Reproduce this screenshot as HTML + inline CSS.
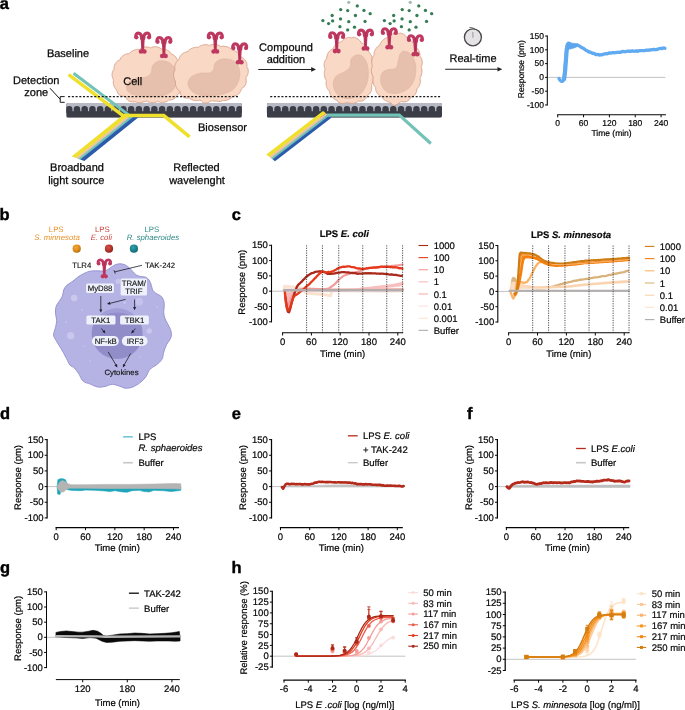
<!DOCTYPE html>
<html lang="en"><head><meta charset="utf-8"><title>Figure</title>
<style>
html,body{margin:0;padding:0;background:#fff}
body{width:685px;height:710px;overflow:hidden}
svg{display:block;font-family:"Liberation Sans",Arial,Helvetica,sans-serif;text-rendering:geometricPrecision}
</style></head><body>
<svg width="685" height="710" viewBox="0 0 685 710">
<rect width="685" height="710" fill="#fff"/>
<clipPath id="sc1"><rect x="66.2" y="102.9" width="175.7" height="14.9" rx="1.8"/></clipPath><g clip-path="url(#sc1)"><rect x="66.2" y="102.9" width="175.7" height="14.9" fill="#3b3d47"/><rect x="66.2" y="102.9" width="175.7" height="8.3" fill="#b7bac4"/><path d="M65.95 112.7V109.25A3.25 3.25 0 0 1 72.45 109.25V112.7ZM73.69 112.7V109.25A3.25 3.25 0 0 1 80.19 109.25V112.7ZM81.43 112.7V109.25A3.25 3.25 0 0 1 87.93 109.25V112.7ZM89.17 112.7V109.25A3.25 3.25 0 0 1 95.67 109.25V112.7ZM96.91 112.7V109.25A3.25 3.25 0 0 1 103.41 109.25V112.7ZM104.65 112.7V109.25A3.25 3.25 0 0 1 111.16 109.25V112.7ZM112.39 112.7V109.25A3.25 3.25 0 0 1 118.9 109.25V112.7ZM120.14 112.7V109.25A3.25 3.25 0 0 1 126.64 109.25V112.7ZM127.88 112.7V109.25A3.25 3.25 0 0 1 134.38 109.25V112.7ZM135.62 112.7V109.25A3.25 3.25 0 0 1 142.12 109.25V112.7ZM143.36 112.7V109.25A3.25 3.25 0 0 1 149.86 109.25V112.7ZM151.1 112.7V109.25A3.25 3.25 0 0 1 157.6 109.25V112.7ZM158.84 112.7V109.25A3.25 3.25 0 0 1 165.34 109.25V112.7ZM166.58 112.7V109.25A3.25 3.25 0 0 1 173.08 109.25V112.7ZM174.32 112.7V109.25A3.25 3.25 0 0 1 180.82 109.25V112.7ZM182.06 112.7V109.25A3.25 3.25 0 0 1 188.56 109.25V112.7ZM189.8 112.7V109.25A3.25 3.25 0 0 1 196.31 109.25V112.7ZM197.54 112.7V109.25A3.25 3.25 0 0 1 204.05 109.25V112.7ZM205.29 112.7V109.25A3.25 3.25 0 0 1 211.79 109.25V112.7ZM213.03 112.7V109.25A3.25 3.25 0 0 1 219.53 109.25V112.7ZM220.77 112.7V109.25A3.25 3.25 0 0 1 227.27 109.25V112.7ZM228.51 112.7V109.25A3.25 3.25 0 0 1 235.01 109.25V112.7ZM236.25 112.7V109.25A3.25 3.25 0 0 1 242.75 109.25V112.7Z" fill="#3b3d47"/></g>
<path d="M71.6 156.4L76.11 158.03L130.14 114.6L123.6 114.6Z" fill="#efe02c"/><path d="M75.89 157.95L78.2 158.79L133.18 114.6L129.82 114.6Z" fill="#f0bfa4"/><path d="M77.98 158.71L80.52 159.63L136.53 114.6L132.86 114.6Z" fill="#72c2b8"/><path d="M80.3 159.55L84.26 160.98L141.96 114.6L136.21 114.6Z" fill="#2b5bab"/>
<path d="M73.600 73.200L129.300 115.400" stroke="#72c2b8" stroke-width="3.0" fill="none"/>
<path d="M68.600 74.700L122.600 115.400" stroke="#efe02c" stroke-width="3.4" fill="none"/>
<path d="M121 115.600H163.8L189.6 136.8" stroke="#efe02c" stroke-width="3.5" fill="none" stroke-linejoin="miter"/>
<path d="M150.54 48.03C150.28 47.99 149.77 47.53 149.38 47.38C148.99 47.23 148.52 47.18 148.19 47.12C147.85 47.06 147.72 47.04 147.38 47.02C147.04 47 146.49 46.98 146.15 46.98C145.81 46.98 145.67 46.99 145.32 47.03C144.98 47.07 144.43 47.15 144.09 47.21C143.75 47.27 143.54 47.33 143.27 47.4C143 47.48 142.8 47.53 142.47 47.66C142.14 47.79 141.62 48.01 141.31 48.17C140.99 48.32 140.86 48.36 140.58 48.59C140.3 48.82 139.92 49.41 139.61 49.53C139.3 49.66 139.07 49.36 138.7 49.33C138.33 49.31 137.76 49.33 137.4 49.36C137.04 49.38 136.83 49.42 136.55 49.47C136.27 49.52 136.06 49.56 135.72 49.65C135.38 49.74 134.84 49.91 134.51 50.02C134.18 50.13 134.05 50.19 133.74 50.33C133.42 50.47 132.93 50.71 132.63 50.87C132.32 51.03 132.21 51.09 131.92 51.28C131.63 51.47 131.18 51.77 130.9 51.99C130.61 52.2 130.43 52.35 130.21 52.55C129.99 52.75 129.87 53.01 129.57 53.2C129.27 53.39 128.75 53.59 128.4 53.69C128.06 53.79 127.8 53.74 127.51 53.79C127.22 53.84 127.01 53.88 126.67 53.97C126.33 54.07 125.79 54.25 125.47 54.37C125.14 54.49 125.01 54.54 124.71 54.7C124.41 54.85 123.93 55.11 123.65 55.29C123.36 55.46 123.26 55.52 122.99 55.74C122.72 55.95 122.28 56.33 122.02 56.58C121.76 56.82 121.61 57 121.42 57.22C121.22 57.44 121.07 57.6 120.87 57.91C120.67 58.22 120.39 58.73 120.22 59.06C120.05 59.38 120.12 59.64 119.85 59.85C119.58 60.06 118.92 60.17 118.6 60.32C118.27 60.48 118.16 60.57 117.89 60.78C117.61 60.99 117.19 61.35 116.93 61.59C116.68 61.82 116.59 61.92 116.37 62.19C116.15 62.45 115.82 62.89 115.62 63.17C115.42 63.45 115.35 63.57 115.19 63.87C115.03 64.18 114.8 64.68 114.66 65C114.53 65.32 114.47 65.52 114.4 65.78C114.32 66.05 114.25 66.25 114.2 66.59C114.15 66.94 114.08 67.49 114.08 67.85C114.07 68.2 114.27 68.4 114.18 68.72C114.09 69.04 113.74 69.4 113.53 69.75C113.32 70.1 113.07 70.51 112.92 70.81C112.77 71.12 112.72 71.25 112.62 71.58C112.51 71.9 112.37 72.44 112.29 72.77C112.21 73.11 112.19 73.32 112.16 73.59C112.12 73.87 112.1 74.08 112.09 74.42C112.09 74.77 112.1 75.33 112.12 75.67C112.15 76.02 112.16 76.16 112.23 76.5C112.29 76.84 112.42 77.37 112.51 77.71C112.61 78.04 112.64 78.17 112.8 78.49C112.96 78.81 113.37 79.3 113.48 79.62C113.59 79.95 113.49 80.1 113.45 80.46C113.42 80.81 113.31 81.4 113.28 81.76C113.25 82.13 113.27 82.34 113.28 82.63C113.3 82.91 113.31 83.13 113.36 83.47C113.42 83.82 113.52 84.37 113.6 84.7C113.68 85.04 113.71 85.17 113.82 85.49C113.93 85.81 114.13 86.31 114.26 86.63C114.39 86.95 114.45 87.08 114.62 87.39C114.79 87.71 115.07 88.2 115.26 88.5C115.45 88.81 115.59 88.98 115.77 89.2C115.95 89.43 116.14 89.57 116.36 89.84C116.58 90.11 116.93 90.52 117.07 90.82C117.2 91.13 117.08 91.33 117.16 91.66C117.24 91.99 117.38 92.43 117.56 92.8C117.73 93.16 118 93.55 118.22 93.83C118.43 94.11 118.63 94.26 118.86 94.46C119.09 94.65 119.27 94.79 119.6 94.97C119.93 95.16 120.48 95.42 120.82 95.56C121.16 95.71 121.38 95.77 121.67 95.85C121.95 95.93 122.23 96.01 122.51 96.07C122.79 96.14 123 96.18 123.35 96.25C123.69 96.31 124.19 96.41 124.56 96.48C124.92 96.54 125.25 96.4 125.54 96.63C125.82 96.87 126.08 97.55 126.26 97.89C126.45 98.22 126.46 98.35 126.64 98.65C126.81 98.95 127.09 99.42 127.31 99.7C127.52 99.98 127.68 100.14 127.92 100.34C128.16 100.54 128.42 100.73 128.72 100.9C129.03 101.07 129.4 101.24 129.77 101.38C130.14 101.52 130.6 101.65 130.94 101.74C131.27 101.82 131.49 101.85 131.78 101.89C132.06 101.93 132.28 101.97 132.65 101.97C133.02 101.97 133.63 101.95 134 101.9C134.38 101.84 134.63 101.64 134.92 101.65C135.21 101.65 135.42 101.8 135.74 101.93C136.07 102.06 136.57 102.31 136.89 102.42C137.21 102.53 137.34 102.54 137.67 102.58C138 102.63 138.55 102.67 138.89 102.68C139.23 102.69 139.37 102.69 139.71 102.66C140.05 102.63 140.6 102.57 140.94 102.53C141.28 102.48 141.41 102.46 141.75 102.39C142.08 102.32 142.61 102.19 142.94 102.11C143.27 102.04 143.4 102 143.73 101.91C144.06 101.82 144.6 101.67 144.94 101.56C145.27 101.46 145.49 101.37 145.76 101.28C146.03 101.19 146.25 100.98 146.58 101.04C146.9 101.11 147.33 101.51 147.71 101.68C148.09 101.86 148.54 102 148.87 102.11C149.2 102.22 149.4 102.26 149.68 102.33C149.95 102.4 150.15 102.45 150.53 102.5C150.9 102.55 151.51 102.61 151.91 102.64C152.3 102.66 152.61 102.64 152.9 102.63C153.19 102.61 153.31 102.6 153.63 102.57C153.95 102.53 154.48 102.45 154.82 102.39C155.15 102.33 155.37 102.28 155.65 102.2C155.93 102.13 156.15 102.07 156.51 101.94C156.88 101.81 157.46 101.45 157.83 101.44C158.2 101.43 158.44 101.75 158.74 101.87C159.04 101.98 159.34 102.05 159.64 102.11C159.94 102.18 160.17 102.23 160.54 102.28C160.91 102.32 161.49 102.37 161.85 102.39C162.21 102.41 162.35 102.41 162.69 102.4C163.03 102.38 163.56 102.33 163.88 102.29C164.2 102.26 164.26 102.25 164.61 102.17C164.95 102.08 165.58 101.9 165.96 101.77C166.34 101.64 166.58 101.51 166.87 101.37C167.15 101.22 167.42 101.06 167.67 100.88C167.92 100.7 168.05 100.4 168.36 100.27C168.68 100.14 169.23 100.14 169.56 100.1C169.9 100.06 170.05 100.09 170.37 100.04C170.69 99.99 171.2 99.88 171.51 99.81C171.82 99.73 171.9 99.71 172.24 99.59C172.57 99.46 173.17 99.2 173.51 99.04C173.85 98.87 174.01 98.75 174.25 98.59C174.48 98.43 174.66 98.31 174.92 98.08C175.18 97.84 175.57 97.45 175.81 97.18C176.05 96.92 176.18 96.73 176.36 96.48C176.53 96.23 176.69 95.98 176.87 95.67C177.05 95.37 177.19 94.96 177.41 94.65C177.63 94.33 177.91 93.99 178.17 93.8C178.43 93.61 178.64 93.66 178.95 93.51C179.26 93.35 179.73 93.06 180.02 92.85C180.31 92.65 180.42 92.56 180.67 92.28C180.92 92.01 181.31 91.53 181.52 91.2C181.74 90.88 181.85 90.6 181.97 90.32C182.09 90.04 182.16 89.82 182.23 89.51C182.31 89.2 182.39 88.83 182.43 88.46C182.48 88.1 182.5 87.64 182.51 87.31C182.51 86.98 182.52 86.84 182.47 86.49C182.43 86.15 182.35 85.58 182.25 85.22C182.15 84.86 181.84 84.61 181.87 84.33C181.91 84.05 182.28 83.87 182.46 83.53C182.64 83.18 182.83 82.61 182.95 82.26C183.07 81.9 183.11 81.69 183.17 81.4C183.23 81.11 183.27 80.89 183.31 80.54C183.35 80.19 183.4 79.62 183.41 79.27C183.42 78.93 183.42 78.79 183.4 78.45C183.37 78.12 183.32 77.58 183.27 77.24C183.21 76.9 183.16 76.67 183.08 76.39C183.01 76.11 182.95 75.89 182.82 75.55C182.68 75.21 182.44 74.66 182.26 74.33C182.07 74.01 181.8 73.84 181.71 73.57C181.62 73.31 181.67 73.08 181.69 72.72C181.71 72.35 181.81 71.75 181.83 71.39C181.85 71.02 181.83 70.88 181.8 70.53C181.77 70.18 181.7 69.64 181.65 69.3C181.6 68.97 181.57 68.84 181.49 68.53C181.41 68.22 181.3 67.8 181.17 67.44C181.05 67.07 180.88 66.64 180.74 66.32C180.59 65.99 180.46 65.75 180.31 65.49C180.16 65.22 179.99 64.97 179.82 64.73C179.65 64.49 179.53 64.3 179.28 64.04C179.02 63.78 178.55 63.42 178.32 63.17C178.08 62.91 177.97 62.84 177.87 62.53C177.77 62.22 177.8 61.7 177.72 61.31C177.64 60.93 177.49 60.52 177.4 60.23C177.3 59.94 177.29 59.88 177.14 59.56C177 59.23 176.72 58.61 176.55 58.27C176.37 57.94 176.26 57.77 176.11 57.53C175.95 57.29 175.85 57.12 175.62 56.85C175.4 56.58 175.03 56.17 174.78 55.93C174.53 55.68 174.35 55.55 174.11 55.38C173.87 55.2 173.63 55.04 173.33 54.87C173.02 54.71 172.63 54.54 172.26 54.39C171.9 54.23 171.41 54.14 171.16 53.93C170.91 53.72 170.97 53.45 170.77 53.15C170.57 52.85 170.2 52.41 169.97 52.15C169.73 51.88 169.56 51.74 169.34 51.54C169.12 51.35 168.96 51.21 168.65 51C168.35 50.79 167.81 50.46 167.51 50.28C167.2 50.11 167.13 50.08 166.83 49.95C166.53 49.83 166.03 49.64 165.71 49.53C165.39 49.42 165.26 49.38 164.92 49.31C164.57 49.23 164.01 49.13 163.66 49.08C163.3 49.04 163.08 49.03 162.79 49.03C162.49 49.03 162.22 49.19 161.88 49.11C161.55 49.02 161.07 48.7 160.77 48.52C160.46 48.34 160.36 48.21 160.05 48.04C159.75 47.86 159.26 47.63 158.95 47.49C158.64 47.35 158.5 47.3 158.17 47.2C157.84 47.11 157.32 46.98 156.99 46.91C156.66 46.84 156.53 46.82 156.2 46.79C155.87 46.76 155.34 46.73 155 46.73C154.67 46.72 154.54 46.73 154.2 46.76C153.87 46.8 153.33 46.87 152.99 46.93C152.66 47 152.52 47.02 152.18 47.13C151.84 47.25 151.22 47.48 150.95 47.63C150.67 47.78 150.8 48.07 150.54 48.03Z" fill="#f9d8c5" stroke="#d69d85" stroke-width="0.85" stroke-linejoin="round"/><path d="M152.31 66.32C153.2 64.48 154.8 62.82 156.5 61.89C158.19 60.95 160.19 60.45 162.49 60.69C164.78 60.93 168.07 61.69 170.27 63.32C172.47 64.96 174.66 67.51 175.66 70.51C176.66 73.5 176.66 78.09 176.26 81.29C175.86 84.48 175.16 87.38 173.26 89.67C171.37 91.97 168.27 93.86 164.88 95.06C161.49 96.26 157.1 96.66 152.9 96.86C148.71 97.06 143.52 96.86 139.73 96.26C135.94 95.66 132.39 94.66 130.15 93.26C127.91 91.87 126.52 89.77 126.32 87.87C126.12 85.98 127.32 83.48 128.95 81.89C130.59 80.29 133.34 79.09 136.14 78.29C138.93 77.5 143.22 77.99 145.72 77.1C148.21 76.2 150.01 74.7 151.11 72.9C152.21 71.11 151.41 68.15 152.31 66.32Z" fill="#e6c0ac" stroke="#dcb29e" stroke-width="0.5"/>
<path d="M209.54 45.64C209.21 45.62 208.63 45.11 208.28 44.97C207.93 44.83 207.79 44.85 207.44 44.8C207.1 44.75 206.55 44.7 206.2 44.68C205.86 44.66 205.72 44.66 205.38 44.68C205.04 44.69 204.5 44.74 204.17 44.78C203.83 44.82 203.7 44.84 203.37 44.92C203.04 44.99 202.52 45.12 202.19 45.22C201.87 45.31 201.74 45.36 201.42 45.48C201.11 45.61 200.6 45.83 200.29 45.98C199.98 46.13 199.85 46.19 199.55 46.39C199.25 46.59 198.81 47.02 198.5 47.18C198.19 47.34 198.06 47.33 197.71 47.35C197.36 47.37 196.76 47.28 196.4 47.27C196.03 47.27 195.82 47.3 195.54 47.33C195.25 47.37 195.04 47.39 194.68 47.46C194.33 47.53 193.78 47.66 193.43 47.75C193.09 47.85 192.89 47.92 192.62 48.02C192.35 48.12 192.15 48.19 191.83 48.34C191.51 48.48 191 48.74 190.69 48.91C190.39 49.08 190.26 49.15 189.98 49.35C189.69 49.56 189.25 49.89 188.98 50.11C188.71 50.34 188.61 50.4 188.38 50.69C188.16 50.98 187.91 51.66 187.63 51.85C187.34 52.05 186.97 51.83 186.67 51.87C186.36 51.91 186.15 51.96 185.8 52.07C185.46 52.18 184.92 52.38 184.59 52.52C184.26 52.66 184.07 52.76 183.82 52.9C183.57 53.03 183.39 53.13 183.1 53.33C182.8 53.52 182.35 53.85 182.08 54.07C181.81 54.29 181.7 54.38 181.46 54.63C181.22 54.88 180.85 55.29 180.63 55.56C180.41 55.83 180.33 55.94 180.15 56.23C179.97 56.53 179.71 57.01 179.56 57.32C179.41 57.63 179.37 57.77 179.27 58.1C179.18 58.44 179.15 59.06 178.97 59.34C178.79 59.63 178.48 59.59 178.2 59.82C177.91 60.06 177.52 60.48 177.27 60.75C177.03 61.02 176.91 61.2 176.75 61.43C176.58 61.67 176.46 61.85 176.28 62.16C176.11 62.47 175.85 62.98 175.7 63.3C175.56 63.62 175.5 63.75 175.39 64.08C175.28 64.41 175.13 64.94 175.04 65.27C174.96 65.6 174.93 65.73 174.88 66.06C174.83 66.39 174.77 66.93 174.75 67.27C174.73 67.62 174.74 67.84 174.76 68.13C174.78 68.41 174.85 68.64 174.87 68.99C174.89 69.34 174.95 69.89 174.88 70.22C174.81 70.55 174.59 70.66 174.45 70.99C174.31 71.31 174.13 71.84 174.02 72.18C173.92 72.51 173.89 72.65 173.83 72.98C173.77 73.32 173.7 73.85 173.66 74.19C173.63 74.52 173.62 74.65 173.62 74.98C173.62 75.31 173.64 75.81 173.66 76.14C173.68 76.47 173.69 76.61 173.75 76.96C173.81 77.3 173.93 77.88 174.03 78.23C174.12 78.57 174.16 78.71 174.3 79.04C174.44 79.37 174.68 79.89 174.86 80.2C175.04 80.51 175.26 80.67 175.37 80.92C175.48 81.17 175.51 81.36 175.52 81.71C175.53 82.05 175.42 82.63 175.41 82.98C175.4 83.33 175.42 83.47 175.45 83.81C175.49 84.14 175.57 84.67 175.63 85C175.7 85.34 175.73 85.49 175.84 85.83C175.94 86.16 176.13 86.7 176.26 87.03C176.4 87.35 176.46 87.48 176.63 87.79C176.79 88.1 177.08 88.59 177.27 88.88C177.46 89.18 177.54 89.29 177.76 89.56C177.97 89.83 178.34 90.24 178.57 90.48C178.8 90.73 178.88 90.84 179.16 91.03C179.45 91.22 180.08 91.35 180.27 91.62C180.46 91.9 180.27 92.37 180.31 92.69C180.35 93.01 180.4 93.22 180.51 93.56C180.61 93.9 180.8 94.4 180.94 94.72C181.08 95.03 181.13 95.15 181.34 95.44C181.56 95.73 181.95 96.18 182.23 96.44C182.51 96.71 182.77 96.87 183.04 97.04C183.31 97.21 183.53 97.32 183.84 97.45C184.15 97.58 184.52 97.71 184.9 97.81C185.28 97.91 185.78 98 186.13 98.05C186.48 98.1 186.71 98.11 187.02 98.11C187.32 98.12 187.63 98.13 187.95 98.08C188.28 98.04 188.6 97.69 188.96 97.82C189.32 97.94 189.77 98.59 190.1 98.83C190.42 99.07 190.64 99.14 190.9 99.27C191.17 99.4 191.38 99.5 191.7 99.63C192.02 99.76 192.53 99.95 192.83 100.06C193.13 100.16 193.17 100.18 193.52 100.27C193.86 100.35 194.5 100.5 194.88 100.57C195.27 100.63 195.53 100.64 195.83 100.65C196.13 100.67 196.36 100.67 196.69 100.65C197.03 100.63 197.53 100.57 197.85 100.53C198.16 100.5 198.26 100.47 198.57 100.42C198.87 100.37 199.28 100.2 199.68 100.23C200.07 100.25 200.61 100.42 200.93 100.59C201.24 100.77 201.31 101 201.58 101.26C201.84 101.51 202.24 101.89 202.5 102.12C202.77 102.34 202.86 102.44 203.16 102.6C203.46 102.75 203.97 102.98 204.3 103.07C204.63 103.17 204.81 103.18 205.14 103.18C205.48 103.17 205.94 103.13 206.33 103.06C206.73 102.98 207.17 102.83 207.51 102.72C207.85 102.61 208.09 102.51 208.37 102.4C208.64 102.29 208.86 102.22 209.17 102.07C209.49 101.92 209.94 101.68 210.24 101.49C210.53 101.3 210.69 101.03 210.96 100.92C211.23 100.81 211.47 100.84 211.85 100.86C212.24 100.87 212.88 100.97 213.27 100.99C213.65 101.02 213.87 101.01 214.16 101.01C214.45 101.02 214.67 101.01 215 101.02C215.34 101.03 215.85 101.04 216.17 101.06C216.49 101.08 216.62 101.1 216.94 101.15C217.26 101.19 217.77 101.28 218.1 101.33C218.42 101.38 218.56 101.42 218.9 101.45C219.24 101.48 219.8 101.51 220.15 101.5C220.5 101.49 220.72 101.45 221 101.38C221.28 101.31 221.53 101.25 221.83 101.07C222.13 100.9 222.5 100.43 222.82 100.35C223.13 100.26 223.34 100.54 223.72 100.56C224.09 100.59 224.7 100.54 225.07 100.5C225.44 100.46 225.67 100.4 225.96 100.34C226.26 100.28 226.48 100.22 226.83 100.12C227.17 100.01 227.72 99.82 228.04 99.7C228.36 99.58 228.52 99.51 228.77 99.4C229.03 99.29 229.22 99.22 229.55 99.05C229.88 98.87 230.43 98.56 230.75 98.36C231.08 98.16 231.25 98.02 231.48 97.85C231.71 97.67 231.89 97.54 232.15 97.3C232.4 97.06 232.77 96.62 233.01 96.38C233.25 96.15 233.26 95.98 233.58 95.87C233.91 95.77 234.6 95.81 234.96 95.76C235.33 95.71 235.45 95.67 235.77 95.57C236.09 95.47 236.57 95.3 236.87 95.16C237.18 95.02 237.33 94.94 237.61 94.74C237.89 94.53 238.32 94.18 238.57 93.95C238.82 93.73 238.9 93.63 239.12 93.37C239.33 93.1 239.67 92.66 239.87 92.37C240.07 92.08 240.15 91.95 240.32 91.63C240.5 91.31 240.78 90.77 240.94 90.44C241.09 90.11 241.17 89.91 241.27 89.64C241.38 89.37 241.36 89.11 241.55 88.83C241.75 88.55 242.15 88.19 242.43 87.97C242.7 87.76 242.89 87.74 243.18 87.53C243.48 87.31 243.93 86.94 244.19 86.68C244.46 86.42 244.6 86.24 244.78 85.99C244.97 85.74 245.13 85.51 245.29 85.19C245.45 84.88 245.63 84.42 245.75 84.11C245.86 83.79 245.9 83.66 245.97 83.31C246.04 82.97 246.13 82.41 246.18 82.06C246.22 81.71 246.23 81.49 246.24 81.2C246.24 80.91 246.25 80.69 246.23 80.32C246.21 79.96 246.16 79.37 246.09 79C246.03 78.63 245.76 78.45 245.83 78.11C245.9 77.77 246.34 77.3 246.53 76.98C246.72 76.66 246.83 76.46 246.97 76.19C247.1 75.93 247.21 75.73 247.34 75.39C247.48 75.06 247.68 74.52 247.8 74.18C247.91 73.84 247.96 73.63 248.03 73.36C248.09 73.09 248.14 72.88 248.19 72.54C248.23 72.2 248.29 71.73 248.29 71.32C248.3 70.91 248.26 70.43 248.21 70.08C248.17 69.73 248.11 69.5 248.04 69.22C247.97 68.94 247.92 68.72 247.78 68.39C247.64 68.07 247.37 67.56 247.19 67.25C247.02 66.94 246.78 66.87 246.75 66.54C246.72 66.22 246.95 65.63 246.99 65.29C247.02 64.95 247 64.84 246.96 64.49C246.93 64.15 246.84 63.57 246.77 63.23C246.7 62.89 246.66 62.78 246.54 62.46C246.41 62.14 246.19 61.65 246.03 61.34C245.86 61.03 245.73 60.85 245.55 60.6C245.37 60.35 245.19 60.11 244.95 59.84C244.7 59.57 244.38 59.24 244.08 58.98C243.79 58.72 243.45 58.46 243.19 58.27C242.92 58.08 242.82 57.99 242.5 57.83C242.18 57.66 241.57 57.49 241.28 57.29C241 57.08 240.94 56.85 240.79 56.6C240.64 56.34 240.59 56.09 240.4 55.77C240.21 55.45 239.88 54.96 239.67 54.66C239.46 54.37 239.32 54.21 239.13 54C238.94 53.78 238.8 53.63 238.55 53.39C238.31 53.15 237.9 52.79 237.65 52.57C237.39 52.35 237.28 52.27 237 52.07C236.73 51.88 236.27 51.58 235.98 51.4C235.69 51.22 235.57 51.15 235.25 51.01C234.94 50.86 234.42 50.64 234.09 50.52C233.76 50.4 233.64 50.33 233.26 50.29C232.89 50.25 232.16 50.42 231.84 50.27C231.52 50.13 231.53 49.65 231.34 49.4C231.16 49.16 230.99 49.03 230.73 48.82C230.47 48.61 230.12 48.34 229.8 48.13C229.47 47.92 229.07 47.7 228.78 47.54C228.49 47.39 228.37 47.33 228.07 47.21C227.76 47.08 227.26 46.9 226.94 46.79C226.62 46.68 226.49 46.65 226.15 46.57C225.82 46.5 225.27 46.4 224.92 46.34C224.58 46.29 224.36 46.28 224.08 46.26C223.79 46.24 223.58 46.22 223.21 46.24C222.84 46.26 222.23 46.29 221.86 46.37C221.49 46.44 221.3 46.76 220.98 46.68C220.67 46.6 220.27 46.06 219.98 45.87C219.69 45.67 219.56 45.64 219.24 45.51C218.93 45.38 218.41 45.18 218.09 45.07C217.76 44.96 217.62 44.92 217.29 44.85C216.95 44.77 216.4 44.65 216.06 44.6C215.71 44.54 215.5 44.52 215.22 44.5C214.94 44.47 214.73 44.45 214.38 44.45C214.03 44.44 213.47 44.46 213.12 44.48C212.78 44.5 212.64 44.51 212.29 44.57C211.95 44.62 211.41 44.73 211.08 44.82C210.74 44.9 210.55 44.95 210.29 45.08C210.04 45.22 209.88 45.65 209.54 45.64Z" fill="#f9d8c5" stroke="#d69d85" stroke-width="0.85" stroke-linejoin="round"/><path d="M214.55 63.92C215.45 62.47 217.15 60.81 219.1 59.97C221.06 59.13 223.79 58.69 226.29 58.89C228.78 59.09 231.88 59.43 234.07 61.17C236.27 62.9 238.66 66.16 239.46 69.31C240.26 72.47 239.96 76.7 238.86 80.09C237.76 83.48 235.97 87.24 232.87 89.67C229.78 92.11 225.19 93.66 220.3 94.7C215.41 95.74 208.22 96.44 203.53 95.9C198.84 95.36 194.75 93.5 192.16 91.47C189.56 89.43 188.1 86.14 187.96 83.68C187.82 81.23 189.22 78.49 191.32 76.74C193.41 74.98 197.41 73.82 200.54 73.14C203.67 72.47 207.92 73.4 210.12 72.66C212.32 71.93 212.97 70.17 213.71 68.71C214.45 67.26 213.65 65.38 214.55 63.92Z" fill="#e6c0ac" stroke="#dcb29e" stroke-width="0.5"/>
<g transform="translate(142.7 54) scale(1)"><path d="M-1.1 -15.5C-1.1 -19 -2.5 -20.900 -4.5 -20.900C-6.6 -20.900 -7.2 -18.800 -6.9 -17M1.1 -15.5C1.1 -19 2.5 -20.900 4.5 -20.900C6.6 -20.900 7.2 -18.800 6.9 -17" fill="none" stroke="#bf3860" stroke-width="3.1" stroke-linecap="round" stroke-linejoin="round"/><circle cx="-6.3" cy="-16.700" r="2.1" fill="#bf3860"/><circle cx="6.3" cy="-16.700" r="2.1" fill="#bf3860"/><path d="M-2.1 -17L-1.4 -4.500H1.4L2.1 -17Z" fill="#bf3860"/><path d="M0 -19.5V-5" stroke="#9c2448" stroke-width="1.1" fill="none" opacity="0.5"/><circle cx="-1.7" cy="-2.5" r="2.3" fill="#bf3860"/><circle cx="1.7" cy="-2.5" r="2.3" fill="#bf3860"/><circle cx="0" cy="-3.700" r="1.9" fill="#bf3860"/></g>
<g transform="translate(163.9 58.5) scale(1)"><path d="M-1.1 -15.5C-1.1 -19 -2.5 -20.900 -4.5 -20.900C-6.6 -20.900 -7.2 -18.800 -6.9 -17M1.1 -15.5C1.1 -19 2.5 -20.900 4.5 -20.900C6.6 -20.900 7.2 -18.800 6.9 -17" fill="none" stroke="#bf3860" stroke-width="3.1" stroke-linecap="round" stroke-linejoin="round"/><circle cx="-6.3" cy="-16.700" r="2.1" fill="#bf3860"/><circle cx="6.3" cy="-16.700" r="2.1" fill="#bf3860"/><path d="M-2.1 -17L-1.4 -4.500H1.4L2.1 -17Z" fill="#bf3860"/><path d="M0 -19.5V-5" stroke="#9c2448" stroke-width="1.1" fill="none" opacity="0.5"/><circle cx="-1.7" cy="-2.5" r="2.3" fill="#bf3860"/><circle cx="1.7" cy="-2.5" r="2.3" fill="#bf3860"/><circle cx="0" cy="-3.700" r="1.9" fill="#bf3860"/></g>
<g transform="translate(215.3 54) scale(1)"><path d="M-1.1 -15.5C-1.1 -19 -2.5 -20.900 -4.5 -20.900C-6.6 -20.900 -7.2 -18.800 -6.9 -17M1.1 -15.5C1.1 -19 2.5 -20.900 4.5 -20.900C6.6 -20.900 7.2 -18.800 6.9 -17" fill="none" stroke="#bf3860" stroke-width="3.1" stroke-linecap="round" stroke-linejoin="round"/><circle cx="-6.3" cy="-16.700" r="2.1" fill="#bf3860"/><circle cx="6.3" cy="-16.700" r="2.1" fill="#bf3860"/><path d="M-2.1 -17L-1.4 -4.500H1.4L2.1 -17Z" fill="#bf3860"/><path d="M0 -19.5V-5" stroke="#9c2448" stroke-width="1.1" fill="none" opacity="0.5"/><circle cx="-1.7" cy="-2.5" r="2.3" fill="#bf3860"/><circle cx="1.7" cy="-2.5" r="2.3" fill="#bf3860"/><circle cx="0" cy="-3.700" r="1.9" fill="#bf3860"/></g>
<g transform="translate(239.7 64.8) scale(1)"><path d="M-1.1 -15.5C-1.1 -19 -2.5 -20.900 -4.5 -20.900C-6.6 -20.900 -7.2 -18.800 -6.9 -17M1.1 -15.5C1.1 -19 2.5 -20.900 4.5 -20.900C6.6 -20.900 7.2 -18.800 6.9 -17" fill="none" stroke="#bf3860" stroke-width="3.1" stroke-linecap="round" stroke-linejoin="round"/><circle cx="-6.3" cy="-16.700" r="2.1" fill="#bf3860"/><circle cx="6.3" cy="-16.700" r="2.1" fill="#bf3860"/><path d="M-2.1 -17L-1.4 -4.500H1.4L2.1 -17Z" fill="#bf3860"/><path d="M0 -19.5V-5" stroke="#9c2448" stroke-width="1.1" fill="none" opacity="0.5"/><circle cx="-1.7" cy="-2.5" r="2.3" fill="#bf3860"/><circle cx="1.7" cy="-2.5" r="2.3" fill="#bf3860"/><circle cx="0" cy="-3.700" r="1.9" fill="#bf3860"/></g>
<path d="M68.1 96.6H239" stroke="#1a1a1a" stroke-width="1.1" stroke-dasharray="2.05 1.68" fill="none"/>
<path d="M64.7 96.6H60.2V102.3H64.7M50 88.2L60.2 99.3" stroke="#1a1a1a" stroke-width="1.0" fill="none"/>
<text x="68" y="56.6" font-size="11" text-anchor="middle" fill="#0a0a0a" stroke="#0a0a0a" stroke-width="0.25">Baseline</text>
<text x="36.2" y="83.7" font-size="11" text-anchor="middle" fill="#0a0a0a" stroke="#0a0a0a" stroke-width="0.25">Detection</text>
<text x="36.2" y="96.1" font-size="11" text-anchor="middle" fill="#0a0a0a" stroke="#0a0a0a" stroke-width="0.25">zone</text>
<text x="132.8" y="84.9" font-size="11" text-anchor="middle" fill="#0a0a0a" stroke="#0a0a0a" stroke-width="0.25">Cell</text>
<text x="222.5" y="130.5" font-size="11" text-anchor="middle" fill="#0a0a0a" stroke="#0a0a0a" stroke-width="0.25">Biosensor</text>
<text x="77" y="171.3" font-size="11" text-anchor="middle" fill="#0a0a0a" stroke="#0a0a0a" stroke-width="0.25">Broadband</text>
<text x="76.3" y="183.9" font-size="11" text-anchor="middle" fill="#0a0a0a" stroke="#0a0a0a" stroke-width="0.25">light source</text>
<text x="196.5" y="171" font-size="11" text-anchor="middle" fill="#0a0a0a" stroke="#0a0a0a" stroke-width="0.25">Reflected</text>
<text x="197" y="183.6" font-size="11" text-anchor="middle" fill="#0a0a0a" stroke="#0a0a0a" stroke-width="0.25">wavelenght</text>
<text x="286" y="50.5" font-size="11" text-anchor="middle" fill="#0a0a0a" stroke="#0a0a0a" stroke-width="0.25">Compound</text>
<text x="285.9" y="63.4" font-size="11" text-anchor="middle" fill="#0a0a0a" stroke="#0a0a0a" stroke-width="0.25">addition</text>
<path d="M258.3 69.4L311.7 69.4" stroke="#222" stroke-width="1.05" fill="none"/><path d="M316 69.4L311.2 71.7L311.2 67.1Z" fill="#222"/>
<clipPath id="sc2"><rect x="266.8" y="102.9" width="175.2" height="14.9" rx="1.8"/></clipPath><g clip-path="url(#sc2)"><rect x="266.8" y="102.9" width="175.2" height="14.9" fill="#3b3d47"/><rect x="266.8" y="102.9" width="175.2" height="8.3" fill="#b7bac4"/><path d="M266.56 112.7V109.24A3.24 3.24 0 0 1 273.04 109.24V112.7ZM274.28 112.7V109.24A3.24 3.24 0 0 1 280.76 109.24V112.7ZM281.99 112.7V109.24A3.24 3.24 0 0 1 288.48 109.24V112.7ZM289.71 112.7V109.24A3.24 3.24 0 0 1 296.2 109.24V112.7ZM297.43 112.7V109.24A3.24 3.24 0 0 1 303.91 109.24V112.7ZM305.15 112.7V109.24A3.24 3.24 0 0 1 311.63 109.24V112.7ZM312.87 112.7V109.24A3.24 3.24 0 0 1 319.35 109.24V112.7ZM320.59 112.7V109.24A3.24 3.24 0 0 1 327.07 109.24V112.7ZM328.3 112.7V109.24A3.24 3.24 0 0 1 334.79 109.24V112.7ZM336.02 112.7V109.24A3.24 3.24 0 0 1 342.51 109.24V112.7ZM343.74 112.7V109.24A3.24 3.24 0 0 1 350.22 109.24V112.7ZM351.46 112.7V109.24A3.24 3.24 0 0 1 357.94 109.24V112.7ZM359.18 112.7V109.24A3.24 3.24 0 0 1 365.66 109.24V112.7ZM366.89 112.7V109.24A3.24 3.24 0 0 1 373.38 109.24V112.7ZM374.61 112.7V109.24A3.24 3.24 0 0 1 381.1 109.24V112.7ZM382.33 112.7V109.24A3.24 3.24 0 0 1 388.81 109.24V112.7ZM390.05 112.7V109.24A3.24 3.24 0 0 1 396.53 109.24V112.7ZM397.77 112.7V109.24A3.24 3.24 0 0 1 404.25 109.24V112.7ZM405.49 112.7V109.24A3.24 3.24 0 0 1 411.97 109.24V112.7ZM413.2 112.7V109.24A3.24 3.24 0 0 1 419.69 109.24V112.7ZM420.92 112.7V109.24A3.24 3.24 0 0 1 427.41 109.24V112.7ZM428.64 112.7V109.24A3.24 3.24 0 0 1 435.12 109.24V112.7ZM436.36 112.7V109.24A3.24 3.24 0 0 1 442.84 109.24V112.7Z" fill="#3b3d47"/></g>
<path d="M266.3 154.6L269.45 156.97L326.05 113.35L323 110.9Z" fill="#efe02c"/><path d="M269.29 156.84L271.12 158.21L327.66 114.63L325.89 113.22Z" fill="#f0bfa4"/><path d="M270.95 158.09L272.78 159.46L329.26 115.92L327.5 114.5Z" fill="#72c2b8"/><path d="M272.61 159.33L275.02 161.14L331.43 117.66L329.1 115.79Z" fill="#2b5bab"/>
<path d="M327 115.15H399.3L430.800 143.5" stroke="#72c2b8" stroke-width="3.1" fill="none"/>
<path d="M351.91 38.08C351.66 38.07 351.26 37.66 350.9 37.55C350.54 37.44 350.14 37.44 349.74 37.42C349.34 37.41 348.84 37.45 348.49 37.49C348.14 37.52 347.92 37.57 347.63 37.63C347.35 37.69 347.13 37.74 346.78 37.86C346.42 37.97 345.86 38.19 345.51 38.34C345.17 38.48 344.97 38.6 344.71 38.75C344.45 38.9 344.24 39.03 343.96 39.23C343.68 39.43 343.29 39.75 343.04 39.97C342.79 40.19 342.68 40.27 342.47 40.55C342.25 40.82 341.99 41.4 341.74 41.62C341.49 41.85 341.29 41.78 340.95 41.88C340.6 41.99 340.03 42.13 339.69 42.25C339.34 42.37 339.15 42.47 338.89 42.6C338.63 42.72 338.44 42.82 338.13 43.01C337.82 43.2 337.33 43.52 337.03 43.73C336.74 43.94 336.56 44.09 336.35 44.28C336.13 44.46 335.97 44.6 335.73 44.83C335.49 45.07 335.13 45.45 334.9 45.69C334.67 45.94 334.58 46.04 334.37 46.32C334.16 46.6 333.83 47.06 333.64 47.36C333.44 47.66 333.41 47.83 333.22 48.13C333.02 48.43 332.74 48.92 332.47 49.15C332.21 49.38 331.9 49.37 331.64 49.5C331.37 49.64 331.18 49.75 330.89 49.96C330.59 50.17 330.14 50.54 329.87 50.78C329.6 51.02 329.49 51.12 329.26 51.4C329.03 51.68 328.67 52.15 328.47 52.43C328.27 52.72 328.23 52.81 328.07 53.1C327.92 53.38 327.69 53.85 327.56 54.15C327.42 54.45 327.38 54.57 327.27 54.89C327.17 55.21 327.03 55.73 326.95 56.06C326.88 56.39 326.84 56.52 326.82 56.87C326.81 57.23 326.97 57.86 326.88 58.19C326.8 58.51 326.54 58.55 326.32 58.82C326.09 59.1 325.73 59.56 325.53 59.85C325.33 60.15 325.27 60.28 325.12 60.6C324.97 60.92 324.75 61.45 324.62 61.79C324.5 62.13 324.45 62.34 324.38 62.63C324.31 62.91 324.26 63.15 324.21 63.49C324.16 63.82 324.12 64.32 324.1 64.64C324.09 64.97 324.09 65.1 324.11 65.44C324.13 65.77 324.19 66.32 324.24 66.66C324.29 67 324.31 67.14 324.42 67.49C324.52 67.84 324.75 68.39 324.86 68.74C324.97 69.09 325.08 69.29 325.06 69.57C325.03 69.86 324.81 70.07 324.7 70.44C324.59 70.8 324.48 71.38 324.42 71.74C324.35 72.1 324.34 72.32 324.32 72.61C324.3 72.9 324.28 73.12 324.28 73.48C324.28 73.83 324.31 74.4 324.33 74.75C324.35 75.1 324.37 75.24 324.43 75.58C324.48 75.92 324.59 76.46 324.66 76.79C324.73 77.12 324.76 77.23 324.87 77.56C324.98 77.9 325.18 78.47 325.32 78.81C325.47 79.15 325.57 79.36 325.73 79.62C325.89 79.89 326.21 80.12 326.29 80.4C326.37 80.68 326.25 80.92 326.21 81.3C326.17 81.67 326.08 82.29 326.06 82.66C326.03 83.03 326.05 83.25 326.06 83.55C326.08 83.84 326.09 84.06 326.14 84.41C326.18 84.76 326.28 85.32 326.35 85.67C326.42 86.01 326.46 86.14 326.56 86.47C326.66 86.79 326.84 87.3 326.96 87.61C327.08 87.92 327.14 88.05 327.28 88.33C327.43 88.62 327.62 89 327.84 89.33C328.05 89.66 328.32 90.04 328.55 90.32C328.78 90.6 329.04 90.77 329.23 91C329.43 91.24 329.61 91.46 329.7 91.73C329.79 92 329.71 92.29 329.77 92.64C329.84 93 330 93.54 330.11 93.87C330.22 94.2 330.28 94.33 330.42 94.63C330.57 94.93 330.79 95.34 330.99 95.67C331.2 96 331.46 96.36 331.65 96.61C331.85 96.86 331.93 96.96 332.14 97.19C332.35 97.41 332.68 97.75 332.93 97.97C333.17 98.2 333.31 98.32 333.6 98.54C333.9 98.76 334.38 99.09 334.69 99.27C335 99.46 335.13 99.54 335.47 99.65C335.81 99.77 336.47 99.79 336.74 99.98C337.02 100.17 336.96 100.56 337.11 100.81C337.26 101.05 337.39 101.21 337.64 101.46C337.88 101.7 338.31 102.06 338.59 102.26C338.87 102.47 339.02 102.55 339.33 102.7C339.63 102.84 340.06 103.02 340.45 103.12C340.84 103.23 341.32 103.31 341.66 103.35C342 103.4 342.22 103.39 342.5 103.4C342.78 103.4 343 103.4 343.35 103.36C343.71 103.33 344.28 103.24 344.63 103.18C344.99 103.11 345.13 103.08 345.48 102.96C345.83 102.84 346.39 102.55 346.74 102.46C347.09 102.38 347.3 102.4 347.57 102.45C347.85 102.51 348.05 102.68 348.39 102.79C348.73 102.9 349.28 103.04 349.62 103.12C349.96 103.2 350.1 103.22 350.45 103.26C350.8 103.31 351.35 103.36 351.7 103.37C352.05 103.39 352.19 103.39 352.53 103.38C352.88 103.36 353.43 103.31 353.78 103.26C354.12 103.22 354.26 103.19 354.59 103.11C354.92 103.02 355.45 102.86 355.78 102.75C356.1 102.63 356.28 102.54 356.53 102.42C356.78 102.29 356.99 102.23 357.29 101.99C357.59 101.76 357.99 101.11 358.32 101C358.65 100.89 358.88 101.27 359.26 101.32C359.63 101.37 360.2 101.33 360.56 101.31C360.92 101.28 361.14 101.23 361.42 101.17C361.7 101.11 361.91 101.06 362.25 100.94C362.59 100.81 363.13 100.57 363.46 100.4C363.79 100.23 363.94 100.13 364.22 99.91C364.5 99.7 364.9 99.35 365.14 99.12C365.39 98.9 365.47 98.82 365.68 98.57C365.89 98.32 366.23 97.9 366.42 97.62C366.62 97.35 366.7 97.24 366.85 96.92C367 96.6 367.17 96.02 367.33 95.71C367.49 95.41 367.61 95.25 367.82 95.07C368.04 94.88 368.31 94.84 368.61 94.6C368.91 94.37 369.35 93.95 369.62 93.68C369.88 93.4 370.02 93.2 370.2 92.94C370.39 92.67 370.57 92.37 370.71 92.11C370.86 91.84 370.95 91.64 371.07 91.34C371.19 91.04 371.32 90.68 371.42 90.32C371.52 89.97 371.61 89.6 371.67 89.22C371.73 88.84 371.77 88.38 371.8 88.05C371.82 87.71 371.83 87.58 371.81 87.23C371.79 86.88 371.75 86.32 371.68 85.96C371.6 85.6 371.31 85.34 371.35 85.06C371.39 84.79 371.72 84.63 371.91 84.31C372.11 83.98 372.35 83.44 372.5 83.1C372.65 82.76 372.71 82.54 372.79 82.26C372.88 81.98 372.94 81.77 373.02 81.41C373.1 81.06 373.2 80.48 373.26 80.12C373.31 79.77 373.32 79.55 373.34 79.26C373.36 78.97 373.38 78.75 373.38 78.4C373.37 78.05 373.35 77.49 373.32 77.15C373.3 76.81 373.29 76.68 373.22 76.34C373.16 76 373.05 75.45 372.95 75.11C372.86 74.76 372.69 74.62 372.65 74.27C372.61 73.92 372.66 73.36 372.72 73.01C372.78 72.65 372.93 72.44 373.02 72.15C373.1 71.87 373.16 71.65 373.23 71.29C373.29 70.93 373.37 70.35 373.41 69.99C373.45 69.63 373.46 69.41 373.47 69.12C373.47 68.84 373.48 68.62 373.46 68.27C373.45 67.91 373.4 67.35 373.36 67C373.32 66.65 373.28 66.45 373.23 66.18C373.17 65.9 373.14 65.7 373.04 65.37C372.95 65.04 372.82 64.59 372.68 64.21C372.53 63.84 372.34 63.42 372.18 63.13C372.01 62.84 371.7 62.8 371.68 62.47C371.65 62.13 371.94 61.5 372.01 61.12C372.08 60.74 372.09 60.48 372.1 60.18C372.12 59.87 372.12 59.56 372.11 59.27C372.1 58.97 372.09 58.74 372.04 58.39C371.99 58.03 371.89 57.47 371.81 57.13C371.74 56.79 371.7 56.66 371.59 56.33C371.48 56.01 371.29 55.51 371.16 55.2C371.03 54.89 370.97 54.77 370.81 54.49C370.65 54.2 370.41 53.8 370.19 53.48C369.96 53.16 369.67 52.81 369.45 52.57C369.23 52.32 369.05 52.29 368.87 52.02C368.69 51.75 368.48 51.29 368.37 50.96C368.26 50.64 368.29 50.35 368.22 50.06C368.15 49.76 368.08 49.55 367.94 49.2C367.8 48.86 367.54 48.32 367.37 48C367.19 47.68 367.07 47.5 366.9 47.26C366.74 47.02 366.61 46.84 366.39 46.56C366.16 46.29 365.78 45.87 365.53 45.62C365.29 45.37 365.18 45.27 364.92 45.06C364.66 44.84 364.23 44.51 363.96 44.31C363.69 44.11 363.6 44.05 363.3 43.88C363 43.71 362.53 43.44 362.18 43.3C361.83 43.16 361.43 43.23 361.22 43.03C361 42.83 361.07 42.42 360.88 42.08C360.69 41.74 360.33 41.26 360.1 40.97C359.88 40.68 359.72 40.53 359.52 40.33C359.33 40.13 359.17 39.98 358.92 39.77C358.66 39.55 358.3 39.26 357.99 39.05C357.68 38.83 357.34 38.64 357.06 38.48C356.79 38.32 356.65 38.25 356.32 38.1C355.99 37.95 355.44 37.7 355.11 37.58C354.78 37.46 354.67 37.42 354.35 37.38C354.03 37.34 353.52 37.32 353.19 37.37C352.85 37.41 352.57 37.53 352.35 37.65C352.14 37.77 352.15 38.1 351.91 38.08Z" fill="#f9d8c5" stroke="#d69d85" stroke-width="0.85" stroke-linejoin="round"/><path d="M356.51 55.04C358.45 54.65 360.85 54.78 362.71 56.59C364.57 58.4 366.85 61.89 367.67 65.89C368.5 69.9 368.71 76.1 367.67 80.62C366.64 85.14 364.63 90 361.47 93.02C358.32 96.05 352.69 98.45 348.76 98.76C344.83 99.07 340.49 97.08 337.91 94.88C335.32 92.69 333.57 88.68 333.26 85.58C332.95 82.48 334.11 78.6 336.05 76.28C337.98 73.95 342.56 73.23 344.88 71.63C347.21 70.03 348.97 68.79 350 66.67C351.03 64.55 350 60.85 351.09 58.91C352.17 56.98 354.57 55.43 356.51 55.04Z" fill="#e6c0ac" stroke="#dcb29e" stroke-width="0.5"/>
<path d="M397.64 34.2C397.31 34.23 396.94 33.79 396.57 33.68C396.19 33.58 395.79 33.58 395.39 33.57C394.98 33.56 394.48 33.6 394.13 33.64C393.78 33.67 393.56 33.72 393.28 33.78C392.99 33.84 392.78 33.88 392.43 34C392.07 34.11 391.51 34.33 391.17 34.47C390.83 34.62 390.63 34.73 390.37 34.88C390.11 35.03 389.86 35.19 389.62 35.36C389.38 35.53 389.19 35.66 388.92 35.91C388.66 36.15 388.27 36.55 388.05 36.83C387.84 37.11 387.89 37.38 387.63 37.56C387.36 37.74 386.86 37.79 386.48 37.93C386.09 38.07 385.64 38.24 385.32 38.38C385.01 38.52 384.89 38.59 384.6 38.78C384.31 38.96 383.85 39.28 383.58 39.48C383.3 39.69 383.15 39.83 382.94 40.02C382.74 40.2 382.58 40.34 382.35 40.6C382.11 40.86 381.75 41.28 381.54 41.55C381.32 41.83 381.24 41.94 381.05 42.24C380.87 42.54 380.58 43.03 380.42 43.34C380.25 43.64 380.18 43.75 380.07 44.09C379.96 44.43 379.92 45.1 379.74 45.38C379.56 45.67 379.28 45.61 378.97 45.8C378.66 45.99 378.17 46.3 377.88 46.51C377.59 46.72 377.44 46.87 377.23 47.07C377.03 47.26 376.87 47.41 376.64 47.67C376.4 47.94 376.04 48.38 375.83 48.67C375.62 48.96 375.51 49.14 375.37 49.39C375.22 49.64 375.11 49.82 374.96 50.15C374.82 50.48 374.6 51.03 374.49 51.37C374.37 51.72 374.33 51.88 374.27 52.23C374.21 52.58 374.14 53.12 374.12 53.46C374.1 53.8 374.2 53.96 374.15 54.29C374.1 54.61 373.95 55.11 373.81 55.41C373.66 55.72 373.48 55.81 373.29 56.11C373.11 56.41 372.84 56.92 372.69 57.24C372.54 57.56 372.47 57.76 372.37 58.03C372.28 58.3 372.2 58.5 372.12 58.84C372.03 59.19 371.91 59.74 371.84 60.09C371.78 60.44 371.76 60.58 371.74 60.94C371.71 61.29 371.7 61.86 371.7 62.21C371.7 62.56 371.72 62.78 371.74 63.06C371.77 63.34 371.78 63.55 371.86 63.9C371.93 64.24 372.08 64.8 372.18 65.14C372.28 65.48 372.53 65.61 372.48 65.94C372.42 66.27 372.01 66.79 371.87 67.12C371.73 67.45 371.72 67.58 371.65 67.92C371.58 68.25 371.49 68.79 371.44 69.13C371.4 69.47 371.39 69.61 371.38 69.94C371.38 70.28 371.38 70.82 371.4 71.16C371.42 71.5 371.43 71.63 371.48 71.97C371.53 72.3 371.63 72.84 371.7 73.17C371.77 73.5 371.8 73.63 371.91 73.96C372.02 74.28 372.2 74.8 372.33 75.13C372.46 75.45 372.53 75.58 372.7 75.89C372.87 76.2 373.3 76.68 373.36 77.01C373.42 77.34 373.14 77.52 373.06 77.88C372.99 78.24 372.93 78.82 372.89 79.18C372.86 79.54 372.87 79.75 372.87 80.04C372.87 80.33 372.87 80.55 372.9 80.91C372.93 81.27 373 81.85 373.06 82.21C373.11 82.57 373.16 82.78 373.23 83.07C373.3 83.35 373.35 83.56 373.47 83.91C373.58 84.25 373.79 84.79 373.93 85.12C374.07 85.46 374.17 85.65 374.31 85.9C374.45 86.15 374.54 86.35 374.76 86.63C374.99 86.92 375.51 87.3 375.66 87.6C375.81 87.9 375.64 88.08 375.64 88.42C375.65 88.75 375.65 89.26 375.69 89.6C375.72 89.94 375.75 90.08 375.86 90.43C375.97 90.79 376.19 91.4 376.34 91.75C376.49 92.11 376.61 92.3 376.77 92.56C376.92 92.82 377.09 93.07 377.27 93.31C377.45 93.54 377.58 93.72 377.83 93.99C378.08 94.25 378.5 94.65 378.76 94.89C379.03 95.12 379.15 95.21 379.44 95.4C379.72 95.6 380.2 95.89 380.5 96.05C380.8 96.21 381 96.2 381.26 96.37C381.53 96.55 381.89 96.86 382.09 97.11C382.29 97.37 382.27 97.59 382.47 97.9C382.68 98.22 383.07 98.72 383.32 99C383.57 99.28 383.75 99.42 383.97 99.6C384.19 99.78 384.36 99.92 384.65 100.11C384.93 100.3 385.4 100.57 385.69 100.73C385.98 100.89 386.1 100.94 386.39 101.08C386.67 101.21 387.06 101.37 387.42 101.53C387.77 101.68 388.19 101.84 388.52 101.99C388.84 102.13 389.08 102.25 389.37 102.38C389.65 102.51 389.95 102.64 390.24 102.75C390.53 102.86 390.87 102.8 391.11 103.05C391.36 103.29 391.5 103.94 391.71 104.22C391.91 104.51 392.04 104.61 392.35 104.76C392.66 104.92 393.16 105.11 393.56 105.16C393.97 105.22 394.42 105.15 394.76 105.11C395.09 105.07 395.31 104.99 395.59 104.91C395.87 104.82 396.08 104.76 396.43 104.6C396.77 104.44 397.32 104.16 397.65 103.98C397.98 103.79 398.17 103.65 398.42 103.48C398.68 103.31 398.92 103.13 399.16 102.95C399.4 102.77 399.55 102.64 399.85 102.4C400.15 102.17 400.59 101.64 400.94 101.54C401.28 101.44 401.62 101.73 401.94 101.79C402.25 101.85 402.47 101.87 402.83 101.9C403.19 101.93 403.74 101.96 404.1 101.96C404.45 101.96 404.58 101.96 404.94 101.91C405.29 101.85 405.87 101.73 406.22 101.62C406.58 101.51 406.78 101.4 407.09 101.24C407.39 101.08 407.79 100.83 408.06 100.65C408.33 100.48 408.43 100.4 408.69 100.19C408.94 99.98 409.34 99.61 409.57 99.37C409.81 99.12 409.92 99.04 410.1 98.72C410.29 98.4 410.42 97.71 410.67 97.46C410.92 97.22 411.3 97.35 411.6 97.24C411.9 97.14 412.17 96.99 412.45 96.83C412.72 96.67 412.97 96.49 413.24 96.27C413.51 96.06 413.8 95.8 414.06 95.53C414.33 95.26 414.63 94.91 414.84 94.65C415.05 94.4 415.13 94.29 415.31 94C415.5 93.71 415.79 93.24 415.95 92.93C416.12 92.62 416.21 92.42 416.32 92.15C416.43 91.88 416.52 91.68 416.63 91.33C416.73 90.97 416.88 90.39 416.95 90.01C417.01 89.64 416.94 89.36 417.01 89.07C417.08 88.78 417.16 88.58 417.38 88.28C417.61 87.97 418.11 87.54 418.35 87.25C418.59 86.96 418.68 86.77 418.82 86.54C418.97 86.31 419.06 86.15 419.2 85.85C419.34 85.56 419.54 85.13 419.67 84.75C419.81 84.37 419.94 83.91 420.03 83.58C420.11 83.24 420.15 83.04 420.19 82.76C420.24 82.49 420.28 82.28 420.3 81.93C420.33 81.58 420.36 81.01 420.36 80.65C420.36 80.29 420.36 80.15 420.31 79.78C420.26 79.41 420.09 78.81 420.06 78.45C420.04 78.09 420.06 77.88 420.15 77.62C420.25 77.35 420.47 77.17 420.64 76.84C420.8 76.52 421.02 75.99 421.15 75.66C421.28 75.33 421.32 75.2 421.41 74.87C421.51 74.54 421.64 74.01 421.71 73.68C421.78 73.34 421.81 73.14 421.85 72.87C421.89 72.6 421.92 72.4 421.94 72.06C421.97 71.71 421.99 71.16 421.99 70.82C421.99 70.47 421.99 70.33 421.96 69.98C421.92 69.64 421.85 69.08 421.79 68.73C421.73 68.39 421.68 68.24 421.59 67.9C421.5 67.56 421.24 67.01 421.26 66.68C421.27 66.35 421.55 66.23 421.68 65.9C421.81 65.57 421.95 65.04 422.04 64.71C422.12 64.38 422.14 64.25 422.18 63.92C422.22 63.59 422.26 63.06 422.27 62.74C422.28 62.41 422.28 62.3 422.25 61.96C422.22 61.62 422.15 61.05 422.09 60.7C422.03 60.35 422 60.22 421.9 59.88C421.8 59.55 421.63 59.02 421.5 58.69C421.38 58.37 421.32 58.24 421.15 57.93C420.98 57.62 420.7 57.14 420.49 56.85C420.27 56.56 419.97 56.52 419.87 56.2C419.76 55.88 419.88 55.29 419.88 54.94C419.87 54.58 419.88 54.44 419.84 54.09C419.79 53.75 419.7 53.2 419.62 52.87C419.55 52.53 419.48 52.34 419.4 52.07C419.31 51.81 419.25 51.62 419.11 51.31C418.98 51 418.78 50.57 418.58 50.22C418.38 49.86 418.1 49.47 417.91 49.2C417.71 48.92 417.57 48.77 417.38 48.56C417.2 48.35 417.06 48.2 416.8 47.96C416.54 47.73 416.11 47.36 415.82 47.15C415.53 46.94 415.31 46.94 415.07 46.69C414.83 46.45 414.53 45.99 414.37 45.69C414.2 45.38 414.22 45.19 414.08 44.87C413.94 44.55 413.68 44.05 413.52 43.75C413.35 43.45 413.28 43.33 413.09 43.06C412.9 42.78 412.59 42.35 412.39 42.1C412.2 41.84 412.13 41.76 411.9 41.51C411.67 41.26 411.26 40.84 410.99 40.59C410.73 40.34 410.56 40.2 410.33 40.02C410.1 39.84 409.93 39.7 409.62 39.49C409.31 39.29 408.8 38.99 408.47 38.81C408.13 38.64 407.89 38.59 407.63 38.46C407.36 38.34 407.1 38.32 406.88 38.05C406.66 37.79 406.48 37.17 406.31 36.86C406.14 36.55 406.05 36.45 405.84 36.2C405.64 35.95 405.34 35.61 405.08 35.35C404.82 35.09 404.54 34.85 404.29 34.66C404.04 34.46 403.83 34.32 403.57 34.16C403.31 34 403.06 33.84 402.7 33.69C402.35 33.54 401.8 33.35 401.45 33.26C401.11 33.16 400.98 33.14 400.63 33.14C400.29 33.14 399.75 33.17 399.4 33.23C399.05 33.29 398.83 33.34 398.54 33.5C398.24 33.67 397.97 34.17 397.64 34.2Z" fill="#f9d8c5" stroke="#d69d85" stroke-width="0.85" stroke-linejoin="round"/><path d="M403.76 51.16C405.44 51.03 408.02 51.42 409.96 53.49C411.9 55.56 414.56 59.56 415.39 63.57C416.21 67.57 416.03 73.39 414.92 77.52C413.81 81.65 411.61 85.74 408.72 88.37C405.83 91.01 401.23 92.76 397.56 93.33C393.89 93.9 389.42 93.33 386.71 91.78C383.99 90.23 382.18 86.87 381.28 84.03C380.37 81.19 380.43 77.05 381.28 74.73C382.13 72.4 383.99 71.16 386.4 70.08C388.8 68.99 393.71 69.82 395.7 68.22C397.69 66.61 397.64 62.79 398.33 60.47C399.03 58.14 398.98 55.81 399.88 54.26C400.79 52.71 402.08 51.29 403.76 51.16Z" fill="#e6c0ac" stroke="#dcb29e" stroke-width="0.5"/>
<g transform="translate(336.7 53.6) scale(1)"><path d="M-1.1 -15.5C-1.1 -19 -2.5 -20.900 -4.5 -20.900C-6.6 -20.900 -7.2 -18.800 -6.9 -17M1.1 -15.5C1.1 -19 2.5 -20.900 4.5 -20.900C6.6 -20.900 7.2 -18.800 6.9 -17" fill="none" stroke="#bf3860" stroke-width="3.1" stroke-linecap="round" stroke-linejoin="round"/><circle cx="-6.3" cy="-16.700" r="2.1" fill="#bf3860"/><circle cx="6.3" cy="-16.700" r="2.1" fill="#bf3860"/><path d="M-2.1 -17L-1.4 -4.500H1.4L2.1 -17Z" fill="#bf3860"/><path d="M0 -19.5V-5" stroke="#9c2448" stroke-width="1.1" fill="none" opacity="0.5"/><circle cx="-1.7" cy="-2.5" r="2.3" fill="#bf3860"/><circle cx="1.7" cy="-2.5" r="2.3" fill="#bf3860"/><circle cx="0" cy="-3.700" r="1.9" fill="#bf3860"/></g>
<g transform="translate(365.5 51) scale(1)"><path d="M-1.1 -15.5C-1.1 -19 -2.5 -20.900 -4.5 -20.900C-6.6 -20.900 -7.2 -18.800 -6.9 -17M1.1 -15.5C1.1 -19 2.5 -20.900 4.5 -20.900C6.6 -20.900 7.2 -18.800 6.9 -17" fill="none" stroke="#bf3860" stroke-width="3.1" stroke-linecap="round" stroke-linejoin="round"/><circle cx="-6.3" cy="-16.700" r="2.1" fill="#bf3860"/><circle cx="6.3" cy="-16.700" r="2.1" fill="#bf3860"/><path d="M-2.1 -17L-1.4 -4.500H1.4L2.1 -17Z" fill="#bf3860"/><path d="M0 -19.5V-5" stroke="#9c2448" stroke-width="1.1" fill="none" opacity="0.5"/><circle cx="-1.7" cy="-2.5" r="2.3" fill="#bf3860"/><circle cx="1.7" cy="-2.5" r="2.3" fill="#bf3860"/><circle cx="0" cy="-3.700" r="1.9" fill="#bf3860"/></g>
<g transform="translate(389.3 49.7) scale(1)"><path d="M-1.1 -15.5C-1.1 -19 -2.5 -20.900 -4.5 -20.900C-6.6 -20.900 -7.2 -18.800 -6.9 -17M1.1 -15.5C1.1 -19 2.5 -20.900 4.5 -20.900C6.6 -20.900 7.2 -18.800 6.9 -17" fill="none" stroke="#bf3860" stroke-width="3.1" stroke-linecap="round" stroke-linejoin="round"/><circle cx="-6.3" cy="-16.700" r="2.1" fill="#bf3860"/><circle cx="6.3" cy="-16.700" r="2.1" fill="#bf3860"/><path d="M-2.1 -17L-1.4 -4.500H1.4L2.1 -17Z" fill="#bf3860"/><path d="M0 -19.5V-5" stroke="#9c2448" stroke-width="1.1" fill="none" opacity="0.5"/><circle cx="-1.7" cy="-2.5" r="2.3" fill="#bf3860"/><circle cx="1.7" cy="-2.5" r="2.3" fill="#bf3860"/><circle cx="0" cy="-3.700" r="1.9" fill="#bf3860"/></g>
<g transform="translate(415.4 56.7) scale(1)"><path d="M-1.1 -15.5C-1.1 -19 -2.5 -20.900 -4.5 -20.900C-6.6 -20.900 -7.2 -18.800 -6.9 -17M1.1 -15.5C1.1 -19 2.5 -20.900 4.5 -20.900C6.6 -20.900 7.2 -18.800 6.9 -17" fill="none" stroke="#bf3860" stroke-width="3.1" stroke-linecap="round" stroke-linejoin="round"/><circle cx="-6.3" cy="-16.700" r="2.1" fill="#bf3860"/><circle cx="6.3" cy="-16.700" r="2.1" fill="#bf3860"/><path d="M-2.1 -17L-1.4 -4.500H1.4L2.1 -17Z" fill="#bf3860"/><path d="M0 -19.5V-5" stroke="#9c2448" stroke-width="1.1" fill="none" opacity="0.5"/><circle cx="-1.7" cy="-2.5" r="2.3" fill="#bf3860"/><circle cx="1.7" cy="-2.5" r="2.3" fill="#bf3860"/><circle cx="0" cy="-3.700" r="1.9" fill="#bf3860"/></g>
<circle cx="348.76" cy="2.33" r="1.65" fill="#a3bcab"/><circle cx="357.29" cy="5.89" r="1.65" fill="#357d54"/><circle cx="340.7" cy="9.61" r="1.65" fill="#357d54"/><circle cx="347.67" cy="10.54" r="1.65" fill="#357d54"/><circle cx="363.95" cy="10.39" r="1.65" fill="#357d54"/><circle cx="370.16" cy="13.64" r="1.65" fill="#357d54"/><circle cx="332.17" cy="15.5" r="1.65" fill="#357d54"/><circle cx="355.43" cy="15.5" r="1.65" fill="#357d54"/><circle cx="340.54" cy="18.91" r="1.65" fill="#357d54"/><circle cx="322.87" cy="20.62" r="1.65" fill="#357d54"/><circle cx="332.64" cy="20.93" r="1.65" fill="#357d54"/><circle cx="328.6" cy="23.57" r="1.65" fill="#357d54"/><circle cx="348.76" cy="21.71" r="1.65" fill="#357d54"/><circle cx="365.04" cy="21.4" r="1.65" fill="#357d54"/><circle cx="339.92" cy="26.67" r="1.65" fill="#357d54"/><circle cx="354.5" cy="27.13" r="1.65" fill="#357d54"/><circle cx="347.67" cy="29.92" r="1.65" fill="#357d54"/><circle cx="410.26" cy="2.33" r="1.65" fill="#a3bcab"/><circle cx="418.79" cy="5.89" r="1.65" fill="#357d54"/><circle cx="402.2" cy="9.61" r="1.65" fill="#357d54"/><circle cx="409.17" cy="10.54" r="1.65" fill="#357d54"/><circle cx="425.45" cy="10.39" r="1.65" fill="#357d54"/><circle cx="431.66" cy="13.64" r="1.65" fill="#357d54"/><circle cx="393.67" cy="15.5" r="1.65" fill="#357d54"/><circle cx="416.93" cy="15.5" r="1.65" fill="#357d54"/><circle cx="402.04" cy="18.91" r="1.65" fill="#357d54"/><circle cx="384.37" cy="20.62" r="1.65" fill="#357d54"/><circle cx="394.14" cy="20.93" r="1.65" fill="#357d54"/><circle cx="390.1" cy="23.57" r="1.65" fill="#357d54"/><circle cx="410.26" cy="21.71" r="1.65" fill="#357d54"/><circle cx="426.54" cy="21.4" r="1.65" fill="#357d54"/><circle cx="401.42" cy="26.67" r="1.65" fill="#357d54"/><circle cx="416" cy="27.13" r="1.65" fill="#357d54"/><circle cx="409.17" cy="29.92" r="1.65" fill="#357d54"/>
<path d="M270.2 96.6H441" stroke="#1a1a1a" stroke-width="1.1" stroke-dasharray="2.05 1.68" fill="none"/>
<circle cx="472.9" cy="37.3" r="8.5" fill="#e6e3e6" stroke="#484848" stroke-width="1.35"/><path d="M472.9 32V37.8" stroke="#8e8e8e" stroke-width="0.9" fill="none"/><path d="M469.4 27.5Q472 27.300 474.8 28.8" stroke="#4a4a4a" stroke-width="0.8" fill="none"/>
<text x="473" y="62" font-size="11" text-anchor="middle" fill="#0a0a0a" stroke="#0a0a0a" stroke-width="0.25">Real-time</text>
<path d="M445.2 69.2L498 69.2" stroke="#222" stroke-width="1.05" fill="none"/><path d="M502.3 69.2L497.5 71.5L497.5 66.9Z" fill="#222"/>
<path d="M119.9 263.8C121.57 263.8 123.55 264.23 125.1 264.9C126.65 265.57 127.93 266.72 129.2 267.8C130.47 268.88 131.53 270.22 132.7 271.4C133.87 272.58 134.83 274.03 136.2 274.9C137.57 275.77 139.35 276.22 140.9 276.6C142.45 276.98 144.13 276.62 145.5 277.2C146.87 277.78 148.12 278.73 149.1 280.1C150.08 281.47 150.82 283.75 151.4 285.4C151.98 287.05 151.82 288.65 152.6 290C153.38 291.35 154.75 292.52 156.1 293.5C157.45 294.48 159.43 294.73 160.7 295.9C161.97 297.07 163.12 298.75 163.7 300.5C164.28 302.25 164.2 304.45 164.2 306.4C164.2 308.35 163.6 310.25 163.7 312.2C163.8 314.15 164.13 316.15 164.8 318.1C165.47 320.05 166.73 321.97 167.7 323.9C168.67 325.83 169.98 327.85 170.6 329.7C171.22 331.55 171.5 333.37 171.4 335C171.3 336.63 170.8 337.9 170 339.5C169.2 341.1 167.63 342.53 166.6 344.6C165.57 346.67 164.57 349.47 163.8 351.9C163.03 354.33 163.28 357 162 359.2C160.72 361.4 158.17 363.38 156.1 365.1C154.03 366.82 151.3 367.55 149.6 369.5C147.9 371.45 147.48 374.62 145.9 376.8C144.32 378.98 142.28 380.9 140.1 382.6C137.92 384.3 135.23 386.07 132.8 387C130.37 387.93 127.7 388.33 125.5 388.2C123.3 388.07 121.8 386.85 119.6 386.2C117.4 385.55 114.73 384.27 112.3 384.3C109.87 384.33 107.43 385.95 105 386.4C102.57 386.85 100.13 387.38 97.7 387C95.27 386.62 92.83 385.08 90.4 384.1C87.97 383.12 85.03 382.82 83.1 381.1C81.17 379.38 80.25 375.98 78.8 373.8C77.35 371.62 75.87 369.45 74.4 368C72.93 366.55 71.32 366.68 70 365.1C68.68 363.52 67.75 360.85 66.5 358.5C65.25 356.15 64.2 353.95 62.5 351C60.8 348.05 57.78 343.47 56.3 340.8C54.82 338.13 53.73 337.23 53.6 335C53.47 332.77 54.98 329.83 55.5 327.4C56.02 324.97 56.7 322.73 56.7 320.4C56.7 318.07 55.6 315.73 55.5 313.4C55.4 311.07 55.52 308.35 56.1 306.4C56.68 304.45 57.93 303.45 59 301.7C60.07 299.95 61.72 297.85 62.5 295.9C63.28 293.95 63.02 291.75 63.7 290C64.38 288.25 65.23 286.75 66.6 285.4C67.97 284.05 70.05 283.27 71.9 281.9C73.75 280.53 75.77 278.57 77.7 277.2C79.63 275.83 81.55 274.67 83.5 273.7C85.45 272.73 87.45 271.88 89.4 271.4C91.35 270.92 93.35 270.87 95.2 270.8C97.05 270.73 98.75 271 100.5 271C102.25 271 104.05 271.33 105.7 270.8C107.35 270.27 108.83 268.78 110.4 267.8C111.97 266.82 113.52 265.57 115.1 264.9C116.68 264.23 118.23 263.8 119.9 263.8Z" fill="#b5b3e4" stroke="#9694d2" stroke-width="1" stroke-linejoin="round"/>
<circle cx="74.2" cy="298" r="3.2" fill="#d9d7f4" opacity="0.6"/>
<circle cx="70.7" cy="335.7" r="3.6" fill="#d9d7f4" opacity="0.55"/>
<circle cx="149.3" cy="331" r="2.7" fill="#d9d7f4" opacity="0.55"/>
<circle cx="118.1" cy="281.3" r="2.6" fill="#d9d7f4" opacity="0.5"/>
<circle cx="139.1" cy="301.7" r="3.9" fill="#d9d7f4" opacity="0.45"/>
<circle cx="124.5" cy="302.5" r="1.2" fill="#d9d7f4" opacity="0.6"/>
<circle cx="66" cy="322" r="1" fill="#d9d7f4" opacity="0.4"/>
<circle cx="82" cy="310" r="1" fill="#d9d7f4" opacity="0.4"/>
<circle cx="128" cy="262" r="0.1" fill="#d9d7f4" opacity="0.1"/>
<circle cx="90" cy="361" r="1.1" fill="#d9d7f4" opacity="0.35"/>
<circle cx="157" cy="307" r="1" fill="#d9d7f4" opacity="0.35"/>
<circle cx="108" cy="377" r="1" fill="#d9d7f4" opacity="0.3"/>
<circle cx="140" cy="357" r="0.9" fill="#d9d7f4" opacity="0.3"/>
<circle cx="84" cy="346" r="0.9" fill="#d9d7f4" opacity="0.3"/>
<circle cx="117.1" cy="333.7" r="25.4" fill="#a19dd6"/>
<path d="M93.5 324A25.4 25.4 0 1 0 140.7 324A30 30 0 0 0 93.500 324Z" fill="#918dc9"/>
<g transform="translate(104.3 278.6) scale(0.9)"><path d="M-1.1 -15.5C-1.1 -19 -2.5 -20.900 -4.5 -20.900C-6.6 -20.900 -7.2 -18.800 -6.9 -17M1.1 -15.5C1.1 -19 2.5 -20.900 4.5 -20.900C6.6 -20.900 7.2 -18.800 6.9 -17" fill="none" stroke="#bf3860" stroke-width="3.1" stroke-linecap="round" stroke-linejoin="round"/><circle cx="-6.3" cy="-16.700" r="2.1" fill="#bf3860"/><circle cx="6.3" cy="-16.700" r="2.1" fill="#bf3860"/><path d="M-2.1 -17L-1.4 -4.500H1.4L2.1 -17Z" fill="#bf3860"/><path d="M0 -19.5V-5" stroke="#9c2448" stroke-width="1.1" fill="none" opacity="0.5"/><circle cx="-1.7" cy="-2.5" r="2.3" fill="#bf3860"/><circle cx="1.7" cy="-2.5" r="2.3" fill="#bf3860"/><circle cx="0" cy="-3.700" r="1.9" fill="#bf3860"/></g>
<rect x="86.1" y="283.6" width="27.8" height="9.4" rx="1.5" fill="#eef1fb"/>
<rect x="120.6" y="278.6" width="26.4" height="16.9" rx="1.5" fill="#eef1fb"/>
<rect x="86.4" y="315.4" width="29.1" height="9.2" rx="1.5" fill="#eef1fb"/>
<rect x="120.1" y="315.4" width="28.7" height="9.2" rx="1.5" fill="#eef1fb"/>
<rect x="91.9" y="335.9" width="27" height="10.2" rx="5.1" fill="#eef1fb"/>
<rect x="121.8" y="335.9" width="25.8" height="10.2" rx="5.1" fill="#eef1fb"/>
<text x="100" y="291.1" font-size="7.8" text-anchor="middle" fill="#111" stroke="#111" stroke-width="0.12">MyD88</text>
<text x="133.8" y="285.6" font-size="7.8" text-anchor="middle" fill="#111" stroke="#111" stroke-width="0.12">TRAM/</text>
<text x="133.8" y="294" font-size="7.8" text-anchor="middle" fill="#111" stroke="#111" stroke-width="0.12">TRIF</text>
<text x="100.8" y="322.5" font-size="7.8" text-anchor="middle" fill="#111" stroke="#111" stroke-width="0.12">TAK1</text>
<text x="134.6" y="322.5" font-size="7.8" text-anchor="middle" fill="#111" stroke="#111" stroke-width="0.12">TBK1</text>
<text x="105.7" y="343.7" font-size="7.8" text-anchor="middle" fill="#111" stroke="#111" stroke-width="0.12">NF-kB</text>
<text x="135.1" y="343.7" font-size="7.8" text-anchor="middle" fill="#111" stroke="#111" stroke-width="0.12">IRF3</text>
<text x="121.5" y="375" font-size="7.8" text-anchor="middle" fill="#111" stroke="#111" stroke-width="0.12">Cytokines</text>
<text x="81.7" y="267.7" font-size="7.8" text-anchor="middle" fill="#111" stroke="#111" stroke-width="0.12">TLR4</text>
<text x="160.1" y="267.5" font-size="7.8" text-anchor="middle" fill="#111" stroke="#111" stroke-width="0.12">TAK-242</text>
<path d="M100.8 296L100.8 309.9" stroke="#1c1c28" stroke-width="0.8" fill="none"/><path d="M100.8 312.6L99.3 309.4L102.3 309.4Z" fill="#1c1c28"/>
<path d="M134.6 299.5L134.6 307.5" stroke="#1c1c28" stroke-width="0.8" fill="none"/><path d="M134.6 310.2L133.1 307L136.1 307Z" fill="#1c1c28"/>
<path d="M125.5 299.4L109.62 303.44" stroke="#1c1c28" stroke-width="0.8" fill="none"/><path d="M107 304.1L109.73 301.86L110.47 304.77Z" fill="#1c1c28"/>
<path d="M101.4 328.4L103.71 331.29" stroke="#1c1c28" stroke-width="0.8" fill="none"/><path d="M105.4 333.4L102.23 331.84L104.57 329.96Z" fill="#1c1c28"/>
<path d="M135.4 328.6L132.98 331.37" stroke="#1c1c28" stroke-width="0.8" fill="none"/><path d="M131.2 333.4L132.18 330L134.44 331.98Z" fill="#1c1c28"/>
<path d="M108.2 351.9L116.02 365.08" stroke="#1c1c28" stroke-width="0.8" fill="none"/><path d="M117.4 367.4L114.48 365.41L117.06 363.88Z" fill="#1c1c28"/>
<path d="M130.6 353.5L124.12 365.05" stroke="#1c1c28" stroke-width="0.8" fill="none"/><path d="M122.8 367.4L123.06 363.88L125.67 365.34Z" fill="#1c1c28"/>
<path d="M142 265.3L114.6 271.9M113.9 270.2L115.4 273.700" stroke="#1c1c28" stroke-width="0.8" fill="none"/>
<radialGradient id="gb1" cx="0.4" cy="0.35" r="0.7"><stop offset="0" stop-color="#f0a83e"/><stop offset="0.55" stop-color="#df8e18"/><stop offset="1" stop-color="#a8680c"/></radialGradient><circle cx="76.7" cy="248.7" r="4.1" fill="url(#gb1)"/>
<radialGradient id="gb2" cx="0.4" cy="0.35" r="0.7"><stop offset="0" stop-color="#d0544a"/><stop offset="0.55" stop-color="#b8342c"/><stop offset="1" stop-color="#82201b"/></radialGradient><circle cx="109" cy="248.7" r="4.1" fill="url(#gb2)"/>
<radialGradient id="gb3" cx="0.4" cy="0.35" r="0.7"><stop offset="0" stop-color="#38a0aa"/><stop offset="0.55" stop-color="#1b838d"/><stop offset="1" stop-color="#0f626c"/></radialGradient><circle cx="133.9" cy="248.7" r="4.1" fill="url(#gb3)"/>
<text x="56.2" y="231.7" font-size="7.8" text-anchor="middle" fill="#e8922a">LPS</text>
<text x="57" y="240" font-size="7.8" font-style="italic" text-anchor="middle" fill="#e8922a">S. minnesota</text>
<text x="102.4" y="231.7" font-size="7.8" text-anchor="middle" fill="#c8463c">LPS</text>
<text x="101.3" y="240" font-size="7.8" font-style="italic" text-anchor="middle" fill="#c8463c">E. coli</text>
<text x="151.9" y="231.7" font-size="7.8" text-anchor="middle" fill="#2f8a86">LPS</text>
<text x="152.9" y="240" font-size="7.8" font-style="italic" text-anchor="middle" fill="#2f8a86">R. sphaeroides</text>
<line x1="547.3" y1="77.4" x2="665.4" y2="77.4" stroke="#b4b4b4" stroke-width="0.8"/>
<path d="M558.99 78.47L559.85 79.93L560.72 80.72L561.58 81.42L562.44 81.26L563.3 80.47L564.16 77.02L565.02 68.94L565.89 57.69L566.75 48.77L567.61 44.84L568.47 43.82L569.33 44.15L570.19 45.21L571.05 45.74L571.92 46.39L572.78 46.49L573.64 45.8L574.5 45.44L575.36 45.47L576.22 45.28L577.09 45.13L577.95 45.05L578.81 45.75L579.67 46.33L580.53 46.66L581.39 47.4L582.26 47.82L583.12 48.23L583.98 48.74L584.84 49.47L585.7 50.02L586.56 50.58L587.43 50.97L588.29 51.55L589.15 52.11L590.01 51.96L590.87 52.53L591.73 52.86L592.59 53.49L593.46 53.23L594.32 53.6L595.18 54.36L596.04 54.5L596.9 54.45L597.76 54.59L598.63 54.58L599.49 55.06L600.35 54.78L601.21 54.72L602.07 54.79L602.93 54.44L603.8 54.08L604.66 53.91L605.52 53.92L606.38 53.64L607.24 53.79L608.1 53.43L608.97 52.92L609.83 53.11L610.69 53.2L611.55 52.89L612.41 52.72L613.27 52.68L614.13 52.81L615 52.7L615.86 52.59L616.72 52.3L617.58 52.36L618.44 52.34L619.3 52.16L620.17 52.36L621.03 52.24L621.89 51.69L622.75 51.42L623.61 51.62L624.47 51.7L625.34 51.79L626.2 51.52L627.06 51.15L627.92 51.23L628.78 51.33L629.64 51.06L630.51 51.42L631.37 51.2L632.23 50.88L633.09 51.1L633.95 51.15L634.81 51.25L635.67 51.03L636.54 50.74L637.4 51.34L638.26 50.8L639.12 50.74L639.98 50.65L640.84 50.66L641.71 50.53L642.57 50.64L643.43 50.53L644.29 50.54L645.15 50.7L646.01 50.08L646.88 50.19L647.74 50.36L648.6 50.07L649.46 50L650.32 50L651.18 49.93L652.05 49.72L652.91 49.58L653.77 49.5L654.63 49.52L655.49 49.73L656.35 49.51L657.21 49.43L658.08 49.03L658.94 48.71L659.8 48.61L660.66 48.47L661.52 48.32L662.38 48.55L663.25 48.03L664.11 48L664.97 48.26" fill="none" stroke="#60aaf1" stroke-width="3.3" stroke-linejoin="round" stroke-linecap="round"/>
<path d="M564.16 79.05C564.31 77.86 564.74 74.92 565.02 71.89C565.31 68.86 565.6 64.54 565.89 60.86C566.17 57.19 566.46 52.5 566.75 49.84C567.03 47.18 567.46 45.71 567.61 44.88" fill="none" stroke="#60aaf1" stroke-width="4.2" stroke-linejoin="round" stroke-linecap="round"/>
<path d="M567.18 42.12L568.9 41.85L571.49 42.95L574.93 43.5L577.52 43.78L577.52 46.53L574.93 47.64L571.49 48.74L568.9 49.29L567.18 49.84Z" fill="#5ca6ee" stroke="#5ca6ee" stroke-width="0.6" stroke-linejoin="round"/>
<g stroke="#050505" stroke-width="1.05" fill="none"><path d="M547.3 35.54V105.49"/><path d="M545.1 36.06H547.3M545.1 49.84H547.3M545.1 63.62H547.3M545.1 77.4H547.3M545.1 91.18H547.3M545.1 104.96H547.3" stroke-width="1"/><path d="M557.18 114.8H665.93"/><path d="M557.7 114.8V117.3M583.55 114.8V117.3M609.4 114.8V117.3M635.24 114.8V117.3M661.09 114.8V117.3" stroke-width="1"/></g>
<g font-size="8.5" fill="#050505" stroke="#050505" stroke-width="0.2"><text x="543.9" y="38.87" text-anchor="end">150</text><text x="543.9" y="52.65" text-anchor="end">100</text><text x="543.9" y="66.43" text-anchor="end">50</text><text x="543.9" y="80.21" text-anchor="end">0</text><text x="543.9" y="93.99" text-anchor="end">-50</text><text x="543.9" y="107.77" text-anchor="end">-100</text><text x="557.7" y="125.9" text-anchor="middle">0</text><text x="583.55" y="125.9" text-anchor="middle">60</text><text x="609.4" y="125.9" text-anchor="middle">120</text><text x="635.24" y="125.9" text-anchor="middle">180</text><text x="661.09" y="125.9" text-anchor="middle">240</text><text x="611.55" y="136.2" text-anchor="middle">Time (min)</text><text transform="translate(524.2 69.21) rotate(-90)" text-anchor="middle">Response (pm)</text></g>
<line x1="271.5" y1="291.2" x2="402.6" y2="291.2" stroke="#b4b4b4" stroke-width="0.8"/>
<path d="M284.04 289.98L284.52 286.3L287.4 286.61L294.6 287.22L300.84 287.83L303.72 290.59L306.6 293.04L316.2 293.95L325.8 294.87L330.6 295.79L331.32 292.73L332.04 289.36L340.2 289.67L359.4 289.67L378.6 289.67L402.6 289.36" fill="none" stroke="#fbe4cf" stroke-width="3" stroke-linejoin="round" stroke-linecap="round"/>
<path d="M284.04 291.2C284.44 290.69 285.08 288.55 286.44 288.14C287.8 287.73 288.04 288.45 292.2 288.75C296.36 289.06 303.4 289.87 311.4 289.98C319.4 290.08 330.6 289.47 340.2 289.36C349.8 289.26 358.6 289.47 369 289.36C379.4 289.26 397 288.85 402.6 288.75" fill="none" stroke="#fbe2e2" stroke-width="2" stroke-linejoin="round" stroke-linecap="round"/>
<path d="M284.04 291.2C284.44 291.51 285.08 292.93 286.44 293.04C287.8 293.14 288.04 292.02 292.2 291.81C296.36 291.61 303.4 291.86 311.4 291.81C319.4 291.76 330.6 291.51 340.2 291.51C349.8 291.51 358.6 291.76 369 291.81C379.4 291.86 397 291.81 402.6 291.81" fill="none" stroke="#f9e4e0" stroke-width="1.6" stroke-linejoin="round" stroke-linecap="round"/>
<path d="M285 291.2L286.44 292.12L288.36 292.73L290.28 292.12L293.16 291.2L294.12 295.48L292.68 298.54L291.24 303.44L289.8 308.34L288.36 311.4L287.4 308.95L285.96 301.91L285 292.73Z" fill="#f7b8b8" stroke="#f7b8b8" stroke-width="0.6" stroke-linejoin="round"/>
<path d="M285 292.12C285.16 293.39 285.56 297.63 285.96 299.77C286.36 301.91 286.84 304.46 287.4 304.97C287.96 305.48 288.68 304 289.32 302.83C289.96 301.65 290.44 299.56 291.24 297.93C292.04 296.3 293.16 294.26 294.12 293.04C295.08 291.81 295.32 291.2 297 290.59C298.68 289.98 303 289.57 304.2 289.36" fill="none" stroke="#f29a9a" stroke-width="2" stroke-linejoin="round" stroke-linecap="round"/>
<path d="M292.2 290.28C295.4 290.23 305 289.98 311.4 289.98C317.8 289.98 323.4 290.33 330.6 290.28C337.8 290.23 349.24 289.98 354.6 289.67C359.96 289.36 359.56 288.85 362.76 288.45C365.96 288.04 370.36 287.58 373.8 287.22C377.24 286.87 380.2 286.66 383.4 286.3C386.6 285.95 389.8 285.54 393 285.08C396.2 284.62 401 283.81 402.6 283.55" fill="none" stroke="#f8bfc0" stroke-width="2.2" stroke-linejoin="round" stroke-linecap="round"/>
<path d="M362.76 288.14L378.6 286.3L393 284.47L402.6 282.02L402.6 285.69L393 286.92L378.6 288.14L362.76 289.06Z" fill="#f8bfc0" stroke="#f8bfc0" stroke-width="0.6" stroke-linejoin="round"/>
<path d="M292.2 290.59C293.8 290.43 297 289.87 301.8 289.67C306.6 289.47 314.6 289.41 321 289.36C327.4 289.31 332.2 289.36 340.2 289.36C348.2 289.36 358.6 289.47 369 289.36C379.4 289.26 397 288.85 402.6 288.75" fill="none" stroke="#f6b4b0" stroke-width="1.6" stroke-linejoin="round" stroke-linecap="round"/>
<path d="M297 289.98C298.2 289.72 301.8 288.65 304.2 288.45C306.6 288.24 308.6 288.65 311.4 288.75C314.2 288.85 318.28 289.06 321 289.06C323.72 289.06 326.2 289.01 327.72 288.75C329.24 288.5 329.24 288.04 330.12 287.53C331 287.02 332.12 286.36 333 285.69C333.88 285.03 334.52 284.47 335.4 283.55C336.28 282.63 337.32 281.15 338.28 280.18C339.24 279.21 340.28 278.45 341.16 277.74C342.04 277.02 342.68 276.41 343.56 275.9C344.44 275.39 345.4 275.03 346.44 274.68C347.48 274.32 348.52 274.12 349.8 273.76C351.08 273.4 352.44 272.94 354.12 272.53C355.8 272.13 358.44 271.77 359.88 271.31C361.32 270.85 361.16 270.34 362.76 269.78C364.36 269.22 366.2 268.45 369.48 267.94C372.76 267.43 378.04 267.13 382.44 266.72C386.84 266.31 392.52 265.85 395.88 265.5C399.24 265.14 401.48 264.73 402.6 264.58" fill="none" stroke="#f39a9a" stroke-width="2.1" stroke-linejoin="round" stroke-linecap="round"/>
<path d="M285.48 297.33L286.68 306.9L287.88 311.64L289.08 312.26L290.28 308.64L291.48 303.79L292.68 299.44L293.88 295.27L295.08 291.74L296.28 288.33L297.48 285.73L298.68 284.32L299.88 283.27L301.08 282.14L302.28 281.09L303.48 279.56L304.68 278.63L305.88 277.13L307.08 276.3L308.28 275.16L309.48 274.48L310.68 273.82L311.88 273.02L313.08 272.86L314.28 272.39L315.48 271.82L316.68 271.71L317.88 271.72L319.08 271.33L320.28 271.27L321.48 271.51L322.68 271.44L323.88 272.06L325.08 272.5L326.28 272.98L327.48 273.76L328.68 273.69L329.88 273.92L331.08 273.88L332.28 273.64L333.48 273.69L334.68 273.43L335.88 273.11L337.08 272.85L338.28 272.58L339.48 272.64L340.68 272.31L341.88 272.15L343.08 272.08L344.28 272.21L345.48 272.39L346.68 272.46L347.88 272.41L349.08 272.5L350.28 272.83L351.48 272.91L352.68 272.99L353.88 273.07L355.08 273.11L356.28 273.41L357.48 273.78L358.68 273.62L359.88 273.68L361.08 273.56L362.28 273.59L363.48 273.44L364.68 273.4L365.88 273.2L367.08 273.39L368.28 273.16L369.48 273.28L370.68 273.15L371.88 273.44L373.08 273.4L374.28 273.43L375.48 273.37L376.68 273.64L377.88 273.55L379.08 273.7L380.28 273.73L381.48 273.72L382.68 273.61L383.88 273.9L385.08 273.83L386.28 274.23L387.48 274.06L388.68 274.38L389.88 274.55L391.08 274.45L392.28 274.5L393.48 274.94L394.68 274.96L395.88 274.88L397.08 275.2L398.28 275.4L399.48 275.65L400.68 275.81L401.88 275.76" fill="none" stroke="#a9291a" stroke-width="2.3" stroke-linejoin="round" stroke-linecap="round"/>
<path d="M284.76 291.83L285.96 303.05L287.16 308.4L288.36 310.49L289.56 308.33L290.76 305.24L291.96 301.37L293.16 297.93L294.36 296.1L295.56 295.11L296.76 294.51L297.96 293.53L299.16 292.74L300.36 291.6L301.56 290.81L302.76 290.12L303.96 288.74L305.16 287.57L306.36 286.48L307.56 285.44L308.76 284.61L309.96 283.55L311.16 282.06L312.36 280.98L313.56 279.7L314.76 278.46L315.96 277.33L317.16 275.92L318.36 274.78L319.56 273.46L320.76 272.68L321.96 271.86L323.16 271.75L324.36 271.9L325.56 272.2L326.76 272.32L327.96 272.01L329.16 272.02L330.36 271.89L331.56 271.61L332.76 271.45L333.96 270.81L335.16 270.02L336.36 269.45L337.56 268.52L338.76 268.11L339.96 267.46L341.16 267.28L342.36 266.78L343.56 266.57L344.76 266.86L345.96 266.71L347.16 266.34L348.36 266.45L349.56 266.33L350.76 266.79L351.96 267.14L353.16 267.11L354.36 267.28L355.56 267.84L356.76 268.26L357.96 268.49L359.16 268.41L360.36 268.58L361.56 268.94L362.76 268.97L363.96 268.87L365.16 268.72L366.36 268.24L367.56 268.34L368.76 268.02L369.96 267.92L371.16 267.92L372.36 267.58L373.56 267.73L374.76 267.4L375.96 267.52L377.16 267.27L378.36 267.24L379.56 267.1L380.76 266.68L381.96 266.64L383.16 266.84L384.36 266.64L385.56 266.99L386.76 266.96L387.96 266.82L389.16 266.97L390.36 267.25L391.56 266.93L392.76 267.31L393.96 267.35L395.16 267.18L396.36 267.49L397.56 267.73L398.76 268.04L399.96 268.25L401.16 268.26L402.36 268.62" fill="none" stroke="#e6391c" stroke-width="2.3" stroke-linejoin="round" stroke-linecap="round"/>
<path d="M284.04 290.28L402.6 290.28" fill="none" stroke="#b3adad" stroke-width="2.5" stroke-linejoin="round" stroke-linecap="round"/>
<path d="M306.6 245.3V332.8M322.44 245.3V332.8M338.76 245.3V332.8M362.76 245.3V332.8M386.76 245.3V332.8M402.6 245.3V332.8" stroke="#222" stroke-width="0.8" stroke-dasharray="1.2 1.2" fill="none"/>
<text x="344.3" y="236.8" font-size="9.5" font-weight="bold" text-anchor="middle" fill="#0a0a0a" stroke="#0a0a0a" stroke-width="0.2">LPS <tspan font-style="italic">E. coli</tspan></text>
<g stroke="#050505" stroke-width="1.1" fill="none"><path d="M271.5 244.75V322.35"/><path d="M269.1 245.3H271.5M269.1 260.6H271.5M269.1 275.9H271.5M269.1 291.2H271.5M269.1 306.5H271.5M269.1 321.8H271.5" stroke-width="1"/><path d="M282.05 332.8H403.15"/><path d="M282.6 332.8V335.5M311.4 332.8V335.5M340.2 332.8V335.5M369 332.8V335.5M397.8 332.8V335.5" stroke-width="1"/></g>
<g font-size="9.5" fill="#050505" stroke="#050505" stroke-width="0.2"><text x="267.9" y="248.43" text-anchor="end">150</text><text x="267.9" y="263.73" text-anchor="end">100</text><text x="267.9" y="279.03" text-anchor="end">50</text><text x="267.9" y="294.33" text-anchor="end">0</text><text x="267.9" y="309.63" text-anchor="end">-50</text><text x="267.9" y="324.94" text-anchor="end">-100</text><text x="282.6" y="345.3" text-anchor="middle">0</text><text x="311.4" y="345.3" text-anchor="middle">60</text><text x="340.2" y="345.3" text-anchor="middle">120</text><text x="369" y="345.3" text-anchor="middle">180</text><text x="397.8" y="345.3" text-anchor="middle">240</text><text x="342.6" y="356.6" text-anchor="middle">Time (min)</text><text transform="translate(245.4 282.25) rotate(-90)" text-anchor="middle">Response (pm)</text></g><line x1="418.5" y1="245.5" x2="428" y2="245.5" stroke="#a8281a" stroke-width="1.1"/>
<text x="433.7" y="249.01" font-size="9.5" fill="#050505" stroke="#050505" stroke-width="0.2">1000</text>
<line x1="418.5" y1="257.62" x2="428" y2="257.62" stroke="#e23c1e" stroke-width="1.1"/>
<text x="433.7" y="261.13" font-size="9.5" fill="#050505" stroke="#050505" stroke-width="0.2">100</text>
<line x1="418.5" y1="269.74" x2="428" y2="269.74" stroke="#f39a98" stroke-width="1.1"/>
<text x="433.7" y="273.25" font-size="9.5" fill="#050505" stroke="#050505" stroke-width="0.2">10</text>
<line x1="418.5" y1="281.86" x2="428" y2="281.86" stroke="#f8bcbc" stroke-width="1.1"/>
<text x="433.7" y="285.38" font-size="9.5" fill="#050505" stroke="#050505" stroke-width="0.2">1</text>
<line x1="418.5" y1="293.98" x2="428" y2="293.98" stroke="#f4b0ac" stroke-width="1.1"/>
<text x="433.7" y="297.5" font-size="9.5" fill="#050505" stroke="#050505" stroke-width="0.2">0.1</text>
<line x1="418.5" y1="306.1" x2="428" y2="306.1" stroke="#fbe0e0" stroke-width="1.1"/>
<text x="433.7" y="309.62" font-size="9.5" fill="#050505" stroke="#050505" stroke-width="0.2">0.01</text>
<line x1="418.5" y1="318.22" x2="428" y2="318.22" stroke="#fbe4cf" stroke-width="1.1"/>
<text x="433.7" y="321.74" font-size="9.5" fill="#050505" stroke="#050505" stroke-width="0.2">0.001</text>
<line x1="418.5" y1="330.34" x2="428" y2="330.34" stroke="#b0aaaa" stroke-width="1.1"/>
<text x="433.7" y="333.85" font-size="9.5" fill="#050505" stroke="#050505" stroke-width="0.2">Buffer</text>
<line x1="497.8" y1="291.4" x2="629.03" y2="291.4" stroke="#b4b4b4" stroke-width="0.8"/>
<path d="M510.53 288.95L511.49 279.77L512.45 277.32L514.38 277.02L515.83 278.55L517.27 281L519.2 283.44L519.2 285.28L517.27 284.06L515.83 282.83L514.38 282.22L512.45 283.44L511.49 287.73L510.53 291.4Z" fill="#dab684" stroke="#dab684" stroke-width="0.6" stroke-linejoin="round"/>
<path d="M518.23 284.2L519.68 284.74L521.12 285.53L522.57 285.99L524.01 286.49L525.46 286.64L526.9 287.03L528.35 287.46L529.79 287.6L531.24 287.86L532.69 288.09L534.13 288.07L535.58 288.12L537.02 288.48L538.47 288.18L539.91 288.38L541.36 288.33L542.8 288.37L544.25 287.91L545.69 287.98L547.14 287.87L548.58 287.62L550.03 287.5L551.47 287.01L552.92 286.57L554.36 286.36L555.81 285.55L557.25 285.34L558.7 284.97L560.14 284.26L561.59 284.15L563.03 283.4L564.48 283.24L565.92 282.87L567.37 282.62L568.81 282.23L570.26 281.99L571.7 281.68L573.15 280.96L574.59 280.96L576.04 280.49L577.48 280.51L578.93 279.95L580.37 279.74L581.82 279.55L583.26 279.3L584.71 279.13L586.15 278.85L587.6 278.89L589.04 278.52L590.49 278.16L591.93 278.21L593.38 277.67L594.82 277.44L596.27 277.4L597.71 277.18L599.16 276.9L600.6 276.68L602.05 276.17L603.49 276.19L604.94 276.1L606.39 275.83L607.83 275.29L609.28 274.87L610.72 274.78L612.17 274.47L613.61 274.14L615.06 273.75L616.5 273.67L617.95 273.2L619.39 272.91L620.84 272.58L622.28 272.44L623.73 272.08L625.17 271.64L626.62 271.02L628.06 270.9" fill="none" stroke="#d9b27c" stroke-width="2.3" stroke-linejoin="round" stroke-linecap="round"/>
<path d="M510.53 290.18C510.77 289.26 511.33 285.79 511.97 284.67C512.61 283.55 513.34 283.44 514.38 283.44C515.42 283.44 515.99 284.06 518.23 284.67C520.48 285.28 524.66 286.55 527.87 287.12C531.08 287.68 533.49 287.98 537.5 288.03C541.52 288.08 547.14 287.63 551.95 287.42C556.77 287.22 560.94 287.22 566.4 286.81C571.86 286.4 578.29 285.64 584.71 284.97C591.13 284.31 597.55 283.55 604.94 282.83C612.33 282.12 625.01 281.05 629.03 280.69" fill="none" stroke="#fde8d6" stroke-width="2.6" stroke-linejoin="round" stroke-linecap="round"/>
<path d="M510.53 290.79C510.69 290.28 511.09 289.05 511.49 287.73C511.89 286.4 512.21 283.6 512.94 282.83C513.66 282.07 514.54 282.83 515.83 283.14C517.11 283.44 518.64 284.11 520.64 284.67C522.65 285.23 525.06 286.04 527.87 286.5C530.68 286.96 534.21 287.37 537.5 287.42C540.79 287.47 543.6 286.91 547.62 286.81C551.63 286.71 557.25 286.96 561.59 286.81C565.92 286.66 569.78 286.25 573.63 285.89C577.48 285.53 579.49 285.13 584.71 284.67C589.93 284.21 597.55 283.65 604.94 283.14C612.33 282.63 625.01 281.86 629.03 281.61" fill="none" stroke="#fad4b0" stroke-width="2.3" stroke-linejoin="round" stroke-linecap="round"/>
<path d="M511.01 288.34L512.45 282.22L515.83 282.83L520.64 284.67L527.87 286.5L527.87 288.34L520.64 288.65L515.83 288.95L512.45 289.56L511.01 290.79Z" fill="#fbdcc0" stroke="#fbdcc0" stroke-width="0.6" stroke-linejoin="round"/>
<path d="M510.53 291.84L511.49 294.59L512.45 297.08L513.42 298.56L514.38 296.41L515.34 292.76L516.31 285.84L517.27 281.05L518.23 281.01L519.2 281.4L520.16 281.59L521.12 282.29L522.09 282.49L523.05 282.67L524.01 282.76L524.98 282.68L525.94 282.27L526.9 282.02L527.87 280.78L528.83 279.51L529.79 278.01L530.76 276.21L531.72 274.06L532.69 272.17L533.65 270.13L534.61 268.35L535.58 266.6L536.54 265.21L537.5 263.94L538.47 263.05L539.43 262.52L540.39 261.86L541.36 262.09L542.32 261.92L543.28 261.86L544.25 261.97L545.21 262.26L546.17 262.21L547.14 262.47L548.1 262.88L549.06 263.19L550.03 263.28L550.99 263.73L551.95 263.66L552.92 264.08L553.88 264.33L554.84 264.55L555.81 264.54L556.77 264.52L557.73 264.83L558.7 264.89L559.66 264.89L560.62 265.08L561.59 265.05L562.55 265.01L563.51 264.99L564.48 264.84L565.44 264.83L566.4 264.93L567.37 264.53L568.33 264.71L569.29 264.62L570.26 264.57L571.22 264.31L572.18 264.22L573.15 264.3L574.11 264.26L575.07 264.29L576.04 263.92L577 264.1L577.96 263.88L578.93 263.87L579.89 263.8L580.86 263.71L581.82 263.69L582.78 263.66L583.75 263.4L584.71 263.22L585.67 263.19L586.64 263.28L587.6 263.01L588.56 263.17L589.53 262.95L590.49 262.72L591.45 262.6L592.42 262.69L593.38 262.47L594.34 262.51L595.31 262.42L596.27 262.32L597.23 262.09L598.2 262.1L599.16 262.12L600.12 261.94L601.09 261.89L602.05 261.91L603.01 261.67L603.98 261.58L604.94 261.58L605.9 261.37L606.87 261.63L607.83 261.37L608.79 261.24L609.76 261.27L610.72 261.25L611.68 260.97L612.65 260.99L613.61 260.97L614.57 260.97L615.54 260.55L616.5 260.69L617.46 260.7L618.43 260.58L619.39 260.48L620.35 260.18L621.32 260.35L622.28 260.23L623.24 260.21L624.21 260L625.17 260.01L626.13 259.88L627.1 259.65L628.06 259.5L629.03 259.45" fill="none" stroke="#f9b468" stroke-width="2.3" stroke-linejoin="round" stroke-linecap="round"/>
<path d="M518.47 279.16L518.96 266.31L519.68 254.68L520.64 253.46L523.05 253.76L530.28 254.37L535.09 255.6L538.47 257.43L538.47 259.58L531.72 258.05L525.94 257.74L524.01 258.96L522.57 263.25L521.12 273.04L519.68 281L518.47 286.5Z" fill="#f6881e" stroke="#f6881e" stroke-width="0.6" stroke-linejoin="round"/>
<path d="M519.68 260.8C520 259.98 520.72 256.87 521.61 255.9C522.49 254.93 523.53 255.09 524.98 254.99C526.42 254.88 528.51 255.04 530.28 255.29C532.04 255.55 534.69 256.31 535.58 256.52" fill="none" stroke="#fbd3a0" stroke-width="0.7" stroke-linejoin="round" stroke-linecap="round"/>
<path d="M519.44 273.04C519.64 271.51 520.2 266.21 520.64 263.86C521.08 261.51 521.85 259.78 522.09 258.96" fill="none" stroke="#fbd3a0" stroke-width="0.6" stroke-linejoin="round" stroke-linecap="round"/>
<path d="M514.38 293.67L515.34 294.88L516.31 293.07L517.27 290.35L518.23 287.2L519.2 282.86L520.16 277.72L521.12 272.59L522.09 265.62L523.05 260.62L524.01 257.86L524.98 257.3L525.94 257.03L526.9 257.1L527.87 256.94L528.83 257.16L529.79 257.22L530.76 257.23L531.72 257.49L532.69 257.89L533.65 257.84L534.61 258.18L535.58 258.46L536.54 258.82L537.5 259.02L538.47 259.63L539.43 260.08L540.39 260.86L541.36 261.38L542.32 261.96L543.28 262.51L544.25 263.02L545.21 263.26L546.17 263.64L547.14 264.19L548.1 264.58L549.06 264.66L550.03 265.03L550.99 265.19L551.95 265.3L552.92 265.25L553.88 265.58L554.84 265.67L555.81 265.73L556.77 265.81L557.73 265.76L558.7 265.63L559.66 265.46L560.62 265.6L561.59 265.51L562.55 265.48L563.51 265.41L564.48 265.15L565.44 265.19L566.4 265.25L567.37 265.25L568.33 264.86L569.29 264.79L570.26 264.64L571.22 264.79L572.18 264.55L573.15 264.29L574.11 264.33L575.07 264.08L576.04 264.31L577 263.83L577.96 264.08L578.93 263.79L579.89 263.83L580.86 263.35L581.82 263.27L582.78 263.01L583.75 262.95L584.71 262.75L585.67 262.89L586.64 262.66L587.6 262.73L588.56 262.86L589.53 262.56L590.49 262.78L591.45 262.82L592.42 262.84L593.38 262.61L594.34 262.64L595.31 262.25L596.27 262.16L597.23 262.39L598.2 262.36L599.16 262.09L600.12 262.17L601.09 261.96L602.05 261.81L603.01 262.01L603.98 261.89L604.94 261.65L605.9 261.8L606.87 261.81L607.83 261.51L608.79 261.46L609.76 261.34L610.72 261.35L611.68 261.39L612.65 261.19L613.61 261.05L614.57 261.05L615.54 261.14L616.5 261.03L617.46 260.9L618.43 260.66L619.39 260.67L620.35 260.6L621.32 260.39L622.28 260.62L623.24 260.32L624.21 260.36L625.17 260.18L626.13 259.98L627.1 260.15L628.06 259.77L629.03 260.06" fill="none" stroke="#f57e0e" stroke-width="2.4" stroke-linejoin="round" stroke-linecap="round"/>
<path d="M514.86 293.78L515.34 293.44L515.83 293.33L516.31 291.45L516.79 289.66L517.27 287.06L517.75 281.63L518.23 274.92L518.72 267.88L519.2 259.51L519.68 254L520.16 253.22L520.64 252.56L521.12 252.49L521.61 252.51L522.09 252.84L522.57 252.78L523.05 252.7L523.53 252.81L524.01 252.94L524.5 253.02L524.98 252.86L525.46 253.16L525.94 252.99L526.42 253.01L526.9 253.25L527.39 253.25L527.87 253.3L528.35 253.27L528.83 253.37L529.31 253.25L529.79 253.28L530.28 253.51L530.76 253.46L531.24 253.83L531.72 253.95L532.2 253.9L532.69 253.98L533.17 254.09L533.65 254.16L534.13 254.33L534.61 254.63L535.09 254.61L535.58 254.81L536.06 255.33L536.54 255.47L537.02 255.83L537.5 256.1L537.98 256.26L538.47 256.46L538.95 256.78L539.43 257.44L539.91 257.74L540.39 258L540.87 258.47L541.36 258.95L541.84 259.35L542.32 259.54L542.8 259.96L543.28 260.14L543.76 260.45L544.25 260.83L544.73 261.02L545.21 261.26L545.69 261.36L546.17 261.37L546.65 261.67L547.14 261.81L547.62 261.82L548.1 261.98L548.58 261.97L549.06 262.28L549.54 262.37L550.03 262.56L550.51 262.53L550.99 262.66L551.47 262.71L551.95 262.71L552.43 263.02L552.92 262.82L553.4 263L553.88 263.06L554.36 263.24L554.84 263.26L555.32 263.34L555.81 263.37L556.29 263.46L556.77 263.46L557.25 263.49L557.73 263.51L558.22 263.37L558.7 263.43L559.18 263.51L559.66 263.7L560.14 263.63L560.62 263.54L561.11 263.5L561.59 263.58L562.07 263.51L562.55 263.43L563.03 263.63L563.51 263.59L564 263.42L564.48 263.5L564.96 263.32L565.44 263.36L565.92 263.42L566.4 263.23L566.89 263.3L567.37 263.02L567.85 262.95L568.33 262.99L568.81 262.82L569.29 262.97L569.78 262.84L570.26 262.86L570.74 262.84L571.22 262.54L571.7 262.71L572.18 262.38L572.67 262.44L573.15 262.33L573.63 262.47L574.11 262.13L574.59 262.09L575.07 262.22L575.56 262.12L576.04 262.06L576.52 261.87L577 261.92L577.48 261.63L577.96 261.64L578.45 261.5L578.93 261.56L579.41 261.36L579.89 261.37L580.37 261.26L580.86 261.27L581.34 261.04L581.82 261.03L582.3 260.98L582.78 261.07L583.26 261.06L583.75 261.02L584.23 260.97L584.71 260.66L585.19 260.83L585.67 260.61L586.15 260.77L586.64 260.62L587.12 260.7L587.6 260.64L588.08 260.47L588.56 260.48L589.04 260.34L589.53 260.52L590.01 260.47L590.49 260.5L590.97 260.42L591.45 260.15L591.93 260.24L592.42 260.23L592.9 260.24L593.38 260.09L593.86 260.09L594.34 260.23L594.82 260.25L595.31 260.19L595.79 259.97L596.27 259.97L596.75 260.11L597.23 260.09L597.71 260.04L598.2 259.91L598.68 259.87L599.16 260L599.64 259.95L600.12 259.96L600.6 259.7L601.09 259.78L601.57 259.63L602.05 259.8L602.53 259.64L603.01 259.62L603.49 259.46L603.98 259.6L604.46 259.6L604.94 259.38L605.42 259.29L605.9 259.39L606.39 259.4L606.87 259.44L607.35 259.29L607.83 259.12L608.31 259.27L608.79 259.22L609.28 259.17L609.76 259.25L610.24 259.27L610.72 259.12L611.2 258.96L611.68 258.97L612.17 259.13L612.65 258.96L613.13 258.92L613.61 258.98L614.09 259.03L614.57 259.06L615.06 258.86L615.54 258.83L616.02 258.93L616.5 258.91L616.98 258.88L617.46 258.62L617.95 258.56L618.43 258.63L618.91 258.56L619.39 258.49L619.87 258.62L620.35 258.47L620.84 258.45L621.32 258.28L621.8 258.45L622.28 258.21L622.76 258.38L623.24 258.2L623.73 258.07L624.21 258.28L624.69 258.11L625.17 258.22L625.65 258.02L626.13 257.99L626.62 257.8L627.1 257.91L627.58 257.74L628.06 257.75L628.54 257.68L629.03 257.79" fill="none" stroke="#cf7c12" stroke-width="2.1" stroke-linejoin="round" stroke-linecap="round"/>
<path d="M551.95 264.47C554.36 264.47 559.18 264.83 566.4 264.47C573.63 264.12 584.87 263.15 595.31 262.33C605.74 261.51 623.41 260.03 629.03 259.58" fill="none" stroke="#fbd9ae" stroke-width="0.6" stroke-linejoin="round" stroke-linecap="round"/>
<path d="M509.56 290.79L629.03 290.79" fill="none" stroke="#b3adad" stroke-width="2" stroke-linejoin="round" stroke-linecap="round"/>
<path d="M532.69 245.5V332.8M548.58 245.5V332.8M564.96 245.5V332.8M589.04 245.5V332.8M613.13 245.5V332.8M629.03 245.5V332.8" stroke="#222" stroke-width="0.8" stroke-dasharray="1.2 1.2" fill="none"/>
<text x="571" y="237.700" font-size="9.5" font-weight="bold" text-anchor="middle" fill="#0a0a0a" stroke="#0a0a0a" stroke-width="0.2">LPS <tspan font-style="italic">S. minnesota</tspan></text>
<g stroke="#050505" stroke-width="1.1" fill="none"><path d="M497.8 244.95V322.55"/><path d="M495.4 245.5H497.8M495.4 260.8H497.8M495.4 276.1H497.8M495.4 291.4H497.8M495.4 306.7H497.8M495.4 322H497.8" stroke-width="1"/><path d="M508.05 332.8H629.58"/><path d="M508.6 332.8V335.5M537.5 332.8V335.5M566.4 332.8V335.5M595.31 332.8V335.5M624.21 332.8V335.5" stroke-width="1"/></g>
<g font-size="9.5" fill="#050505" stroke="#050505" stroke-width="0.2"><text x="494.2" y="248.63" text-anchor="end">150</text><text x="494.2" y="263.93" text-anchor="end">100</text><text x="494.2" y="279.23" text-anchor="end">50</text><text x="494.2" y="294.53" text-anchor="end">0</text><text x="494.2" y="309.83" text-anchor="end">-50</text><text x="494.2" y="325.13" text-anchor="end">-100</text><text x="508.6" y="345.3" text-anchor="middle">0</text><text x="537.5" y="345.3" text-anchor="middle">60</text><text x="566.4" y="345.3" text-anchor="middle">120</text><text x="595.31" y="345.3" text-anchor="middle">180</text><text x="624.21" y="345.3" text-anchor="middle">240</text><text x="568.81" y="356.6" text-anchor="middle">Time (min)</text></g><line x1="644.9" y1="246.4" x2="654.4" y2="246.4" stroke="#cf7c12" stroke-width="1.1"/>
<text x="659.8" y="249.91" font-size="9.5" fill="#050505" stroke="#050505" stroke-width="0.2">1000</text>
<line x1="644.9" y1="258.6" x2="654.4" y2="258.6" stroke="#f57e0e" stroke-width="1.1"/>
<text x="659.8" y="262.12" font-size="9.5" fill="#050505" stroke="#050505" stroke-width="0.2">100</text>
<line x1="644.9" y1="270.8" x2="654.4" y2="270.8" stroke="#f9b468" stroke-width="1.1"/>
<text x="659.8" y="274.31" font-size="9.5" fill="#050505" stroke="#050505" stroke-width="0.2">10</text>
<line x1="644.9" y1="283" x2="654.4" y2="283" stroke="#d9b27c" stroke-width="1.1"/>
<text x="659.8" y="286.51" font-size="9.5" fill="#050505" stroke="#050505" stroke-width="0.2">1</text>
<line x1="644.9" y1="295.2" x2="654.4" y2="295.2" stroke="#fad2ac" stroke-width="1.1"/>
<text x="659.8" y="298.71" font-size="9.5" fill="#050505" stroke="#050505" stroke-width="0.2">0.1</text>
<line x1="644.9" y1="307.4" x2="654.4" y2="307.4" stroke="#fde6d2" stroke-width="1.1"/>
<text x="659.8" y="310.91" font-size="9.5" fill="#050505" stroke="#050505" stroke-width="0.2">0.01</text>
<line x1="644.9" y1="319.6" x2="654.4" y2="319.6" stroke="#b0aaaa" stroke-width="1.1"/>
<text x="659.8" y="323.12" font-size="9.5" fill="#050505" stroke="#050505" stroke-width="0.2">Buffer</text>
<line x1="47.1" y1="486.6" x2="178.38" y2="486.6" stroke="#b4b4b4" stroke-width="0.8"/>
<path d="M57.18 485.97L57.91 479.71L60.11 478.77L63.04 478.77L65.49 479.71L66.46 482.22L67.93 484.72L70.86 485.97L178.38 485.97L180.82 486.6L180.82 490.36L175.93 490.98L171.04 491.61L163.71 490.67L153.94 490.36L149.05 491.92L144.17 491.61L139.28 490.36L131.95 490.67L127.06 492.24L122.17 491.92L114.84 490.67L109.96 491.61L105.07 490.98L95.3 490.36L85.52 490.05L80.64 490.67L70.86 490.36L67.93 489.73L65.97 489.11L63.04 490.36L60.6 491.3L60.11 494.43L57.67 494.12L57.18 487.23Z" fill="#1ea5ba" stroke="#1ea5ba" stroke-width="0.6" stroke-linejoin="round"/>
<path d="M57.18 485.97L58.64 484.09L60.11 481.59L62.06 480.65L64.02 480.96L65.97 482.22L67.93 483.78L70.86 484.72L85.52 484.72L105.07 484.41L129.5 484.41L153.94 484.09L173.49 483.47L180.82 483.78L180.82 489.11L173.49 488.79L153.94 488.48L129.5 488.48L105.07 488.48L85.52 488.17L70.86 488.17L67.93 488.48L65.97 489.73L64.02 491.61L62.06 492.24L60.11 491.61L58.64 489.73L57.18 487.23Z" fill="#b4b4b4" stroke="#b4b4b4" stroke-width="0.6" stroke-linejoin="round"/>
<g stroke="#050505" stroke-width="1.25" fill="none"><path d="M47.1 439V518.55"/><path d="M44.7 439.62H47.1M44.7 455.28H47.1M44.7 470.94H47.1M44.7 486.6H47.1M44.7 502.26H47.1M44.7 517.92H47.1" stroke-width="1"/><path d="M55.58 527.5H179"/><path d="M56.2 527.5V530.2M85.52 527.5V530.2M114.84 527.5V530.2M144.17 527.5V530.2M173.49 527.5V530.2" stroke-width="1"/></g>
<g font-size="9.5" fill="#050505" stroke="#050505" stroke-width="0.2"><text x="43.5" y="442.75" text-anchor="end">150</text><text x="43.5" y="458.42" text-anchor="end">100</text><text x="43.5" y="474.07" text-anchor="end">50</text><text x="43.5" y="489.74" text-anchor="end">0</text><text x="43.5" y="505.4" text-anchor="end">-50</text><text x="43.5" y="521.06" text-anchor="end">-100</text><text x="56.2" y="540.1" text-anchor="middle">0</text><text x="85.52" y="540.1" text-anchor="middle">60</text><text x="114.84" y="540.1" text-anchor="middle">120</text><text x="144.17" y="540.1" text-anchor="middle">180</text><text x="173.49" y="540.1" text-anchor="middle">240</text><text x="117.29" y="551.4" text-anchor="middle">Time (min)</text><text transform="translate(20.6 477.47) rotate(-90)" text-anchor="middle">Response (pm)</text></g><line x1="123.1" y1="436.9" x2="132.8" y2="436.9" stroke="#1ea5ba" stroke-width="1"/>
<text x="138.5" y="440.41" font-size="9.5" fill="#050505" stroke="#050505" stroke-width="0.2">LPS</text><text x="138.5" y="451.2" font-size="9.5" font-style="italic" fill="#0a0a0a" stroke="#0a0a0a" stroke-width="0.2">R. sphaeroides</text><line x1="123.1" y1="462.7" x2="132.8" y2="462.7" stroke="#c6c6c6" stroke-width="1.6"/>
<text x="138.5" y="466.21" font-size="9.5" fill="#050505" stroke="#050505" stroke-width="0.2">Buffer</text>
<line x1="271.5" y1="486.6" x2="402.18" y2="486.6" stroke="#b4b4b4" stroke-width="0.8"/>
<path d="M280.5 485.97L309.7 485.66L329.17 485.03L348.64 484.72L358.37 485.35L404.61 485.66L404.61 486.91L280.5 486.91Z" fill="#c2c2c2" stroke="#c2c2c2" stroke-width="0.6" stroke-linejoin="round"/>
<path d="M281.96 487.16L283.18 488.67L284.39 486.45L285.61 484.34L286.83 483.7L288.04 483.71L289.26 484.25L290.48 484.11L291.69 483.87L292.91 484.02L294.13 483.89L295.34 484.29L296.56 484.11L297.78 484.22L298.99 484.07L300.21 484.07L301.43 484.39L302.64 484.33L303.86 484.34L305.08 484.07L306.3 484.19L307.51 484.53L308.73 484.26L309.95 484.33L311.16 483.83L312.38 483.73L313.6 483.4L314.81 482.58L316.03 482.6L317.25 482.4L318.46 481.82L319.68 481.72L320.9 482.05L322.11 481.76L323.33 482.01L324.55 481.98L325.76 482.25L326.98 481.92L328.2 482.09L329.41 481.98L330.63 482.02L331.85 482.32L333.06 482.28L334.28 482.38L335.5 482.39L336.71 482.43L337.93 482.31L339.15 482.17L340.36 482.51L341.58 482.21L342.8 482.42L344.01 482.47L345.23 482.26L346.45 482.47L347.66 482.59L348.88 482.57L350.1 482.61L351.31 483.09L352.53 482.79L353.75 483.45L354.97 483.38L356.18 483.63L357.4 484.34L358.62 483.95L359.83 484.16L361.05 484.06L362.27 484.34L363.48 484.34L364.7 484.35L365.92 484.04L367.13 484.5L368.35 484.3L369.57 484.29L370.78 484.36L372 484.74L373.22 484.8L374.43 484.77L375.65 484.7L376.87 485.08L378.08 484.82L379.3 484.84L380.52 484.89L381.73 485.45L382.95 485.16L384.17 485.74L385.38 485.74L386.6 485.6L387.82 485.45L389.03 485.74L390.25 485.45L391.47 485.64L392.68 485.75L393.9 485.75L395.12 485.84L396.33 486L397.55 486.07L398.77 485.9L399.98 485.85L401.2 486.37L402.42 486.51L403.64 486.04" fill="none" stroke="#b52a1a" stroke-width="2.6" stroke-linejoin="round" stroke-linecap="round"/>
<g stroke="#050505" stroke-width="1.25" fill="none"><path d="M271.5 439V518.55"/><path d="M269.1 439.62H271.5M269.1 455.28H271.5M269.1 470.94H271.5M269.1 486.6H271.5M269.1 502.26H271.5M269.1 517.92H271.5" stroke-width="1"/><path d="M279.88 527.5H402.8"/><path d="M280.5 527.5V530.2M309.7 527.5V530.2M338.9 527.5V530.2M368.11 527.5V530.2M397.31 527.5V530.2" stroke-width="1"/></g>
<g font-size="9.5" fill="#050505" stroke="#050505" stroke-width="0.2"><text x="267.9" y="442.75" text-anchor="end">150</text><text x="267.9" y="458.42" text-anchor="end">100</text><text x="267.9" y="474.07" text-anchor="end">50</text><text x="267.9" y="489.74" text-anchor="end">0</text><text x="267.9" y="505.4" text-anchor="end">-50</text><text x="267.9" y="521.06" text-anchor="end">-100</text><text x="280.5" y="540.1" text-anchor="middle">0</text><text x="309.7" y="540.1" text-anchor="middle">60</text><text x="338.9" y="540.1" text-anchor="middle">120</text><text x="368.11" y="540.1" text-anchor="middle">180</text><text x="397.31" y="540.1" text-anchor="middle">240</text><text x="341.34" y="551.4" text-anchor="middle">Time (min)</text><text transform="translate(245.7 477.47) rotate(-90)" text-anchor="middle">Response (pm)</text></g><line x1="347.9" y1="435.8" x2="357.7" y2="435.8" stroke="#b52a1a" stroke-width="1.3"/>
<text x="362.9" y="439.31" font-size="9.5" fill="#050505" stroke="#050505" stroke-width="0.2">LPS <tspan font-style="italic">E. coli</tspan></text><text x="362.9" y="453.3" font-size="9.5" fill="#0a0a0a" stroke="#0a0a0a" stroke-width="0.2">+ TAK-242</text><line x1="347.9" y1="462.7" x2="357.7" y2="462.7" stroke="#c6c6c6" stroke-width="1.3"/>
<text x="362.9" y="466.21" font-size="9.5" fill="#050505" stroke="#050505" stroke-width="0.2">Buffer</text>
<line x1="497.4" y1="486.6" x2="628.58" y2="486.6" stroke="#b4b4b4" stroke-width="0.8"/>
<path d="M506.4 485.35L630.04 485.03L630.04 487.54L506.4 487.23Z" fill="#bdbdbd" stroke="#bdbdbd" stroke-width="0.6" stroke-linejoin="round"/>
<path d="M506.89 486.71L508.11 487.86L509.33 488.38L510.55 486.66L511.78 485.07L513 484.08L514.22 483.74L515.44 483.07L516.66 482.97L517.88 482.48L519.11 482.55L520.33 482.38L521.55 482.01L522.77 481.73L523.99 482.23L525.21 482.23L526.44 482.04L527.66 481.9L528.88 482.24L530.1 482.52L531.32 482.33L532.55 483.09L533.77 483.03L534.99 483.91L536.21 484.28L537.43 484.2L538.65 483.98L539.88 483.52L541.1 483.63L542.32 483.08L543.54 482.75L544.76 482.87L545.98 482.7L547.21 482.95L548.43 482.89L549.65 482.75L550.87 482.43L552.09 482.63L553.32 482.74L554.54 482.61L555.76 482.73L556.98 482.87L558.2 482.59L559.42 482.69L560.65 483L561.87 482.79L563.09 482.83L564.31 482.61L565.53 482.7L566.75 482.97L567.98 482.54L569.2 483L570.42 482.42L571.64 481.82L572.86 481.81L574.08 481.42L575.31 481.53L576.53 480.96L577.75 480.84L578.97 481.06L580.19 480.98L581.42 481.43L582.64 481.3L583.86 481.47L585.08 481.56L586.3 481.69L587.52 481.5L588.75 481.49L589.97 481.83L591.19 481.77L592.41 482.14L593.63 481.63L594.85 481.56L596.08 481.24L597.3 481.24L598.52 481.47L599.74 481.22L600.96 480.73L602.19 480.82L603.41 480.23L604.63 480.2L605.85 480.15L607.07 480.11L608.29 479.59L609.52 480.07L610.74 480.31L611.96 480.53L613.18 480.54L614.4 481.25L615.62 481.07L616.85 481.06L618.07 480.9L619.29 480.99L620.51 481.02L621.73 481.53L622.95 481.74L624.18 482.07L625.4 481.84L626.62 481.15L627.84 481L629.06 481.01" fill="none" stroke="#b52a1a" stroke-width="2.8" stroke-linejoin="round" stroke-linecap="round"/>
<g stroke="#050505" stroke-width="1.25" fill="none"><path d="M497.4 439V518.55"/><path d="M495 439.62H497.4M495 455.28H497.4M495 470.94H497.4M495 486.6H497.4M495 502.26H497.4M495 517.92H497.4" stroke-width="1"/><path d="M505.77 527.5H629.2"/><path d="M506.4 527.5V530.2M535.72 527.5V530.2M565.04 527.5V530.2M594.37 527.5V530.2M623.69 527.5V530.2" stroke-width="1"/></g>
<g font-size="9.5" fill="#050505" stroke="#050505" stroke-width="0.2"><text x="493.8" y="442.75" text-anchor="end">150</text><text x="493.8" y="458.42" text-anchor="end">100</text><text x="493.8" y="474.07" text-anchor="end">50</text><text x="493.8" y="489.74" text-anchor="end">0</text><text x="493.8" y="505.4" text-anchor="end">-50</text><text x="493.8" y="521.06" text-anchor="end">-100</text><text x="506.4" y="540.1" text-anchor="middle">0</text><text x="535.72" y="540.1" text-anchor="middle">60</text><text x="565.04" y="540.1" text-anchor="middle">120</text><text x="594.37" y="540.1" text-anchor="middle">180</text><text x="623.69" y="540.1" text-anchor="middle">240</text><text x="567.49" y="551.4" text-anchor="middle">Time (min)</text><text transform="translate(471.7 477.47) rotate(-90)" text-anchor="middle">Response (pm)</text></g><line x1="576.1" y1="448.5" x2="585.8" y2="448.5" stroke="#b52a1a" stroke-width="1.3"/>
<text x="591" y="452.01" font-size="9.5" fill="#050505" stroke="#050505" stroke-width="0.2">LPS <tspan font-style="italic">E.coli</tspan></text><line x1="576.1" y1="462.7" x2="585.8" y2="462.7" stroke="#c6c6c6" stroke-width="1.6"/>
<text x="591" y="466.21" font-size="9.5" fill="#050505" stroke="#050505" stroke-width="0.2">Buffer</text>
<line x1="46.5" y1="637.3" x2="179.33" y2="637.3" stroke="#b4b4b4" stroke-width="0.8"/>
<path d="M55.94 632.46L60.4 631.55L66.35 630.94L72.29 631.55L78.24 632.15L82.7 632.15L88.65 631.24L93.11 630.34L97.57 631.24L100.54 633.06L103.51 635.48L106.49 636.09L112.43 635.18L119.86 633.97L127.3 633.67L134.73 633.06L142.16 633.36L149.6 633.97L157.03 633.67L164.46 633.36L171.9 632.76L179.33 631.55L180.07 637.3L180.07 640.93L175.61 641.24L168.18 640.93L157.03 640.93L149.6 641.24L142.16 640.93L134.73 640.63L127.3 640.93L119.86 641.24L112.43 642.14L106.49 642.45L102.03 641.24L99.05 639.72L96.08 638.21L90.13 637.6L82.7 638.51L76.75 637.91L67.83 637.6L55.94 636.69Z" fill="#0a0a0a" stroke="#0a0a0a" stroke-width="0.6" stroke-linejoin="round"/>
<path d="M55.94 636.09L97.57 636.39L105 636.69L180.07 636.39" fill="none" stroke="#b4b4b4" stroke-width="2.4" stroke-linejoin="round" stroke-linecap="round"/>
<g stroke="#050505" stroke-width="1" fill="none"><path d="M46.5 591.38V668.08"/><path d="M44.1 591.88H46.5M44.1 607.02H46.5M44.1 622.16H46.5M44.1 637.3H46.5M44.1 652.44H46.5M44.1 667.58H46.5" stroke-width="1"/><path d="M55.89 679.6H179.83"/><path d="M82.7 679.6V682.3M127.3 679.6V682.3M171.9 679.6V682.3" stroke-width="1"/></g>
<g font-size="9.5" fill="#050505" stroke="#050505" stroke-width="0.2"><text x="42.9" y="595.01" text-anchor="end">150</text><text x="42.9" y="610.15" text-anchor="end">100</text><text x="42.9" y="625.29" text-anchor="end">50</text><text x="42.9" y="640.43" text-anchor="end">0</text><text x="42.9" y="655.57" text-anchor="end">-50</text><text x="42.9" y="670.71" text-anchor="end">-100</text><text x="82.7" y="692" text-anchor="middle">120</text><text x="127.3" y="692" text-anchor="middle">180</text><text x="171.9" y="692" text-anchor="middle">240</text><text x="117.5" y="706" text-anchor="middle">Time (min)</text><text transform="translate(20.6 628.43) rotate(-90)" text-anchor="middle">Response (pm)</text></g><line x1="128.9" y1="593.2" x2="138.9" y2="593.2" stroke="#0a0a0a" stroke-width="1.3"/>
<text x="144.1" y="596.72" font-size="9.5" fill="#050505" stroke="#050505" stroke-width="0.2">TAK-242</text><line x1="128.9" y1="608.1" x2="138.9" y2="608.1" stroke="#b4b4b4" stroke-width="1"/>
<text x="144.1" y="611.62" font-size="9.5" fill="#050505" stroke="#050505" stroke-width="0.2">Buffer</text>
<line x1="272.3" y1="656.2" x2="405.23" y2="656.2" stroke="#b4b4b4" stroke-width="0.8"/>
<path d="M296.15 656.2L298.57 656.2L301 656.2L303.42 656.2L305.85 656.2L308.27 656.2L310.69 656.2L313.12 656.2L315.54 656.2L317.97 656.2L320.39 656.2L322.81 656.2L325.24 656.2L327.66 656.2L330.09 656.2L332.51 656.2L334.93 656.19L337.36 656.19L339.78 656.18L342.21 656.18L344.63 656.16L347.05 656.14L349.48 656.12L351.9 656.07L354.33 656.01L356.75 655.91L359.17 655.77L361.6 655.55L364.02 655.24L366.45 654.77L368.87 654.11L371.29 653.18L373.72 651.93L376.14 650.31L378.57 648.34L380.99 646.11L383.41 643.79L385.84 641.56L388.26 639.59L390.69 637.97L393.11 636.71" fill="none" stroke="#fbdcdc" stroke-width="1.3" stroke-linejoin="round" stroke-linecap="round"/>
<circle cx="296.15" cy="655.33" r="1.9" fill="#fbdcdc"/>
<circle cx="332.51" cy="651.87" r="1.9" fill="#fbdcdc"/>
<circle cx="344.63" cy="653.6" r="1.9" fill="#fbdcdc"/>
<circle cx="356.75" cy="654.47" r="1.9" fill="#fbdcdc"/>
<circle cx="368.87" cy="652.74" r="1.9" fill="#fbdcdc"/>
<circle cx="380.99" cy="645.38" r="1.9" fill="#fbdcdc"/>
<circle cx="393.11" cy="637.59" r="1.9" fill="#fbdcdc"/>
<path d="M296.15 656.2L298.57 656.2L301 656.2L303.42 656.2L305.85 656.2L308.27 656.2L310.69 656.2L313.12 656.2L315.54 656.2L317.97 656.2L320.39 656.2L322.81 656.2L325.24 656.2L327.66 656.2L330.09 656.19L332.51 656.19L334.93 656.19L337.36 656.18L339.78 656.16L342.21 656.14L344.63 656.11L347.05 656.05L349.48 655.97L351.9 655.83L354.33 655.62L356.75 655.29L359.17 654.77L361.6 653.99L364.02 652.82L366.45 651.11L368.87 648.73L371.29 645.6L373.72 641.8L376.14 637.59L378.57 633.38L380.99 629.58L383.41 626.45L385.84 624.07L388.26 622.36L390.69 621.19L393.11 620.4" fill="none" stroke="#f8b8b6" stroke-width="1.3" stroke-linejoin="round" stroke-linecap="round"/>
<circle cx="296.15" cy="655.33" r="1.9" fill="#f8b8b6"/>
<circle cx="332.51" cy="651.01" r="1.9" fill="#f8b8b6"/>
<circle cx="344.63" cy="652.74" r="1.9" fill="#f8b8b6"/>
<circle cx="356.75" cy="653.6" r="1.9" fill="#f8b8b6"/>
<circle cx="368.87" cy="648.41" r="1.9" fill="#f8b8b6"/>
<circle cx="380.99" cy="629.37" r="1.9" fill="#f8b8b6"/>
<circle cx="393.11" cy="621.58" r="1.9" fill="#f8b8b6"/>
<path d="M296.15 656.2L298.57 656.2L301 656.2L303.42 656.2L305.85 656.2L308.27 656.2L310.69 656.2L313.12 656.2L315.54 656.2L317.97 656.2L320.39 656.2L322.81 656.2L325.24 656.2L327.66 656.19L330.09 656.19L332.51 656.19L334.93 656.18L337.36 656.16L339.78 656.13L342.21 656.09L344.63 656.01L347.05 655.89L349.48 655.69L351.9 655.37L354.33 654.84L356.75 653.99L359.17 652.66L361.6 650.67L364.02 647.83L366.45 644.06L368.87 639.56L371.29 634.76L373.72 630.25L376.14 626.49L378.57 623.64L380.99 621.65L383.41 620.33L385.84 619.48L388.26 618.95L390.69 618.62L393.11 618.42" fill="none" stroke="#f49c96" stroke-width="1.3" stroke-linejoin="round" stroke-linecap="round"/>
<circle cx="296.15" cy="654.9" r="1.9" fill="#f49c96"/>
<circle cx="332.51" cy="651.01" r="1.9" fill="#f49c96"/>
<circle cx="344.63" cy="652.74" r="1.9" fill="#f49c96"/>
<circle cx="356.75" cy="651.01" r="1.9" fill="#f49c96"/>
<circle cx="368.87" cy="638.02" r="1.9" fill="#f49c96"/>
<circle cx="380.99" cy="621.58" r="1.9" fill="#f49c96"/>
<circle cx="393.11" cy="620.71" r="1.9" fill="#f49c96"/>
<path d="M296.15 656.2L298.57 656.2L301 656.2L303.42 656.2L305.85 656.2L308.27 656.2L310.69 656.2L313.12 656.2L315.54 656.2L317.97 656.2L320.39 656.19L322.81 656.19L325.24 656.18L327.66 656.17L330.09 656.15L332.51 656.12L334.93 656.07L337.36 655.98L339.78 655.84L342.21 655.61L344.63 655.23L347.05 654.62L349.48 653.65L351.9 652.15L354.33 649.91L356.75 646.76L359.17 642.69L361.6 637.96L364.02 633.07L366.45 628.62L368.87 625L371.29 622.32L373.72 620.47L376.14 619.26L378.57 618.48L380.99 618L383.41 617.71L385.84 617.52L388.26 617.42L390.69 617.35L393.11 617.31" fill="none" stroke="#ee5c4c" stroke-width="1.3" stroke-linejoin="round" stroke-linecap="round"/>
<circle cx="296.15" cy="654.9" r="1.9" fill="#ee5c4c"/>
<circle cx="332.51" cy="649.28" r="1.9" fill="#ee5c4c"/>
<circle cx="344.63" cy="651.87" r="1.9" fill="#ee5c4c"/>
<circle cx="356.75" cy="644.08" r="1.9" fill="#ee5c4c"/>
<circle cx="368.87" cy="625.9" r="1.9" fill="#ee5c4c"/>
<circle cx="380.99" cy="618.11" r="1.9" fill="#ee5c4c"/>
<circle cx="393.11" cy="620.71" r="1.9" fill="#ee5c4c"/>
<path d="M296.15 656.2L298.57 656.2L301 656.2L303.42 656.2L305.85 656.2L308.27 656.2L310.69 656.2L313.12 656.2L315.54 656.2L317.97 656.19L320.39 656.19L322.81 656.18L325.24 656.17L327.66 656.15L330.09 656.12L332.51 656.07L334.93 655.98L337.36 655.83L339.78 655.59L342.21 655.2L344.63 654.57L347.05 653.57L349.48 652.01L351.9 649.7L354.33 646.44L356.75 642.24L359.17 637.35L361.6 632.3L364.02 627.7L366.45 623.96L368.87 621.19L371.29 619.28L373.72 618.02L376.14 617.23L378.57 616.73L380.99 616.42L383.41 616.24L385.84 616.12L388.26 616.05L390.69 616.01L393.11 615.99" fill="none" stroke="#e23c1e" stroke-width="1.3" stroke-linejoin="round" stroke-linecap="round"/>
<circle cx="296.15" cy="654.47" r="1.9" fill="#e23c1e"/>
<path d="M332.51 648.41V644.95M330.91 644.95H334.11" stroke="#e23c1e" stroke-width="0.8" fill="none"/>
<circle cx="332.51" cy="648.41" r="1.9" fill="#e23c1e"/>
<path d="M344.63 651.01V647.54M343.03 647.54H346.23" stroke="#e23c1e" stroke-width="0.8" fill="none"/>
<circle cx="344.63" cy="651.01" r="1.9" fill="#e23c1e"/>
<path d="M356.75 642.35V638.89M355.15 638.89H358.35" stroke="#e23c1e" stroke-width="0.8" fill="none"/>
<circle cx="356.75" cy="642.35" r="1.9" fill="#e23c1e"/>
<path d="M368.87 618.11V609.46M367.27 609.46H370.47" stroke="#e23c1e" stroke-width="0.8" fill="none"/>
<circle cx="368.87" cy="618.11" r="1.9" fill="#e23c1e"/>
<path d="M380.99 615.95V611.62M379.39 611.62H382.59" stroke="#e23c1e" stroke-width="0.8" fill="none"/>
<circle cx="380.99" cy="615.95" r="1.9" fill="#e23c1e"/>
<path d="M393.11 619.84V617.68M391.51 617.68H394.71" stroke="#e23c1e" stroke-width="0.8" fill="none"/>
<circle cx="393.11" cy="619.84" r="1.9" fill="#e23c1e"/>
<path d="M296.15 656.2L298.57 656.2L301 656.2L303.42 656.2L305.85 656.2L308.27 656.2L310.69 656.2L313.12 656.2L315.54 656.19L317.97 656.19L320.39 656.18L322.81 656.17L325.24 656.16L327.66 656.13L330.09 656.08L332.51 656L334.93 655.87L337.36 655.66L339.78 655.31L342.21 654.74L344.63 653.84L347.05 652.42L349.48 650.29L351.9 647.25L354.33 643.24L356.75 638.42L359.17 633.3L361.6 628.48L364.02 624.46L366.45 621.42L368.87 619.29L371.29 617.88L373.72 616.97L376.14 616.41L378.57 616.06L380.99 615.84L383.41 615.72L385.84 615.64L388.26 615.59L390.69 615.56L393.11 615.54" fill="none" stroke="#a8281a" stroke-width="1.3" stroke-linejoin="round" stroke-linecap="round"/>
<circle cx="296.15" cy="654.04" r="1.9" fill="#a8281a"/>
<path d="M332.51 647.98V644.95M330.91 644.95H334.11" stroke="#a8281a" stroke-width="0.8" fill="none"/>
<circle cx="332.51" cy="647.98" r="1.9" fill="#a8281a"/>
<path d="M344.63 650.57V646.68M343.03 646.68H346.23" stroke="#a8281a" stroke-width="0.8" fill="none"/>
<circle cx="344.63" cy="650.57" r="1.9" fill="#a8281a"/>
<path d="M356.75 641.48V637.59M355.15 637.59H358.35" stroke="#a8281a" stroke-width="0.8" fill="none"/>
<circle cx="356.75" cy="641.48" r="1.9" fill="#a8281a"/>
<path d="M368.87 616.38V606.86M367.27 606.86H370.47" stroke="#a8281a" stroke-width="0.8" fill="none"/>
<circle cx="368.87" cy="616.38" r="1.9" fill="#a8281a"/>
<path d="M380.99 616.38V611.19M379.39 611.19H382.59" stroke="#a8281a" stroke-width="0.8" fill="none"/>
<circle cx="380.99" cy="616.38" r="1.9" fill="#a8281a"/>
<path d="M393.11 620.71V618.11M391.51 618.11H394.71" stroke="#a8281a" stroke-width="0.8" fill="none"/>
<circle cx="393.11" cy="620.71" r="1.9" fill="#a8281a"/>
<g stroke="#050505" stroke-width="1.25" fill="none"><path d="M272.3 590.66V667.65"/><path d="M269.9 591.28H272.3M269.9 602.1H272.3M269.9 612.92H272.3M269.9 623.74H272.3M269.9 634.56H272.3M269.9 645.38H272.3M269.9 656.2H272.3M269.9 667.02H272.3" stroke-width="1"/><path d="M283.4 680H405.86"/><path d="M284.03 680V682.7M308.27 680V682.7M332.51 680V682.7M356.75 680V682.7M380.99 680V682.7M405.23 680V682.7" stroke-width="1"/></g>
<g font-size="9.5" fill="#050505" stroke="#050505" stroke-width="0.2"><text x="268.7" y="594.42" text-anchor="end">150</text><text x="268.7" y="605.24" text-anchor="end">125</text><text x="268.7" y="616.06" text-anchor="end">100</text><text x="268.7" y="626.88" text-anchor="end">75</text><text x="268.7" y="637.7" text-anchor="end">50</text><text x="268.7" y="648.51" text-anchor="end">25</text><text x="268.7" y="659.34" text-anchor="end">0</text><text x="268.7" y="670.16" text-anchor="end">-25</text><text x="284.03" y="692" text-anchor="middle">-6</text><text x="308.27" y="692" text-anchor="middle">-4</text><text x="332.51" y="692" text-anchor="middle">-2</text><text x="356.75" y="692" text-anchor="middle">0</text><text x="380.99" y="692" text-anchor="middle">2</text><text x="405.23" y="692" text-anchor="middle">4</text><text x="344.8" y="707.5" text-anchor="middle">LPS <tspan font-style="italic">E .coli</tspan> [log (ng/ml)]</text><text transform="translate(247.3 627.85) rotate(-90)" text-anchor="middle">Relative response (%)</text></g><line x1="408.3" y1="592.6" x2="418" y2="592.6" stroke="#fbdcdc" stroke-width="1.1"/><circle cx="413.2" cy="592.6" r="1.5" fill="#fbdcdc"/><text x="423.2" y="595.8" font-size="9.5" fill="#0a0a0a" stroke="#0a0a0a" stroke-width="0.2">50 min</text><line x1="408.3" y1="603.32" x2="418" y2="603.32" stroke="#f8b8b6" stroke-width="1.1"/><circle cx="413.2" cy="603.32" r="1.5" fill="#f8b8b6"/><text x="423.2" y="606.52" font-size="9.5" fill="#0a0a0a" stroke="#0a0a0a" stroke-width="0.2">83 min</text><line x1="408.3" y1="614.04" x2="418" y2="614.04" stroke="#f49c96" stroke-width="1.1"/><circle cx="413.2" cy="614.04" r="1.5" fill="#f49c96"/><text x="423.2" y="617.24" font-size="9.5" fill="#0a0a0a" stroke="#0a0a0a" stroke-width="0.2">117 min</text><line x1="408.3" y1="624.76" x2="418" y2="624.76" stroke="#ee5c4c" stroke-width="1.1"/><circle cx="413.2" cy="624.76" r="1.5" fill="#ee5c4c"/><text x="423.2" y="627.96" font-size="9.5" fill="#0a0a0a" stroke="#0a0a0a" stroke-width="0.2">167 min</text><line x1="408.3" y1="635.48" x2="418" y2="635.48" stroke="#e23c1e" stroke-width="1.1"/><circle cx="413.2" cy="635.48" r="1.5" fill="#e23c1e"/><text x="423.2" y="638.68" font-size="9.5" fill="#0a0a0a" stroke="#0a0a0a" stroke-width="0.2">217 min</text><line x1="408.3" y1="646.2" x2="418" y2="646.2" stroke="#a8281a" stroke-width="1.1"/><circle cx="413.2" cy="646.2" r="1.5" fill="#a8281a"/><text x="423.2" y="649.4" font-size="9.5" fill="#0a0a0a" stroke="#0a0a0a" stroke-width="0.2">250 min</text>
<line x1="505.2" y1="659.3" x2="635.84" y2="659.3" stroke="#b4b4b4" stroke-width="0.8"/>
<path d="M526.4 657.06L528.83 657.06L531.26 657.06L533.7 657.06L536.13 657.06L538.56 657.06L540.99 657.06L543.42 657.06L545.86 657.06L548.29 657.06L550.72 657.06L553.15 657.06L555.58 657.06L558.02 657.06L560.45 657.06L562.88 657.06L565.31 657.05L567.74 657.05L570.18 657.04L572.61 657.02L575.04 656.98L577.47 656.92L579.9 656.81L582.34 656.61L584.77 656.24L587.2 655.58L589.63 654.43L592.06 652.45L594.5 649.22L596.93 644.28L599.36 637.52L601.79 629.51L604.22 621.5L606.66 614.74L609.09 609.8L611.52 606.56L613.95 604.59L616.38 603.43L618.82 602.78L621.25 602.41L623.68 602.21" fill="none" stroke="#fde3c8" stroke-width="1.5" stroke-linejoin="round" stroke-linecap="round"/>
<rect x="524.4" y="654.61" width="4" height="4" fill="#fde3c8"/>
<path d="M562.88 658.4V655.72M561.28 655.72H564.48M561.28 658.4H564.48" stroke="#fde3c8" stroke-width="0.8" fill="none"/>
<rect x="560.88" y="655.06" width="4" height="4" fill="#fde3c8"/>
<path d="M575.04 657.51V653.92M573.44 653.92H576.64M573.44 657.51H576.64" stroke="#fde3c8" stroke-width="0.8" fill="none"/>
<rect x="573.04" y="653.72" width="4" height="4" fill="#fde3c8"/>
<path d="M587.2 654.82V647.65M585.6 647.65H588.8M585.6 654.82H588.8" stroke="#fde3c8" stroke-width="0.8" fill="none"/>
<rect x="585.2" y="649.24" width="4" height="4" fill="#fde3c8"/>
<path d="M599.36 637.35V631.97M597.76 631.97H600.96M597.76 637.35H600.96" stroke="#fde3c8" stroke-width="0.8" fill="none"/>
<rect x="597.36" y="632.66" width="4" height="4" fill="#fde3c8"/>
<path d="M611.52 610.92V601.96M609.92 601.96H613.12M609.92 610.92H613.12" stroke="#fde3c8" stroke-width="0.8" fill="none"/>
<rect x="609.52" y="604.44" width="4" height="4" fill="#fde3c8"/>
<path d="M623.68 603.75V598.37M622.08 598.37H625.28M622.08 603.75H625.28" stroke="#fde3c8" stroke-width="0.8" fill="none"/>
<rect x="621.68" y="599.06" width="4" height="4" fill="#fde3c8"/>
<path d="M526.4 657.06L528.83 657.06L531.26 657.06L533.7 657.06L536.13 657.06L538.56 657.06L540.99 657.06L543.42 657.06L545.86 657.06L548.29 657.06L550.72 657.06L553.15 657.05L555.58 657.05L558.02 657.04L560.45 657.02L562.88 656.99L565.31 656.94L567.74 656.86L570.18 656.71L572.61 656.46L575.04 656.03L577.47 655.3L579.9 654.09L582.34 652.15L584.77 649.18L587.2 644.97L589.63 639.59L592.06 633.59L594.5 627.81L596.93 622.98L599.36 619.41L601.79 616.98L604.22 615.44L606.66 614.5L609.09 613.94L611.52 613.61L613.95 613.42L616.38 613.31L618.82 613.24L621.25 613.21L623.68 613.18" fill="none" stroke="#fbca94" stroke-width="1.5" stroke-linejoin="round" stroke-linecap="round"/>
<rect x="524.4" y="654.61" width="4" height="4" fill="#fbca94"/>
<path d="M562.88 658.4V655.72M561.28 655.72H564.48M561.28 658.4H564.48" stroke="#fbca94" stroke-width="0.8" fill="none"/>
<rect x="560.88" y="655.06" width="4" height="4" fill="#fbca94"/>
<path d="M575.04 656.61V653.03M573.44 653.03H576.64M573.44 656.61H576.64" stroke="#fbca94" stroke-width="0.8" fill="none"/>
<rect x="573.04" y="652.82" width="4" height="4" fill="#fbca94"/>
<path d="M587.2 650.34V643.17M585.6 643.17H588.8M585.6 650.34H588.8" stroke="#fbca94" stroke-width="0.8" fill="none"/>
<rect x="585.2" y="644.76" width="4" height="4" fill="#fbca94"/>
<path d="M599.36 619.43V614.05M597.76 614.05H600.96M597.76 619.43H600.96" stroke="#fbca94" stroke-width="0.8" fill="none"/>
<rect x="597.36" y="614.74" width="4" height="4" fill="#fbca94"/>
<path d="M611.52 615.4V606.44M609.92 606.44H613.12M609.92 615.4H613.12" stroke="#fbca94" stroke-width="0.8" fill="none"/>
<rect x="609.52" y="608.92" width="4" height="4" fill="#fbca94"/>
<path d="M623.68 615.4V610.02M622.08 610.02H625.28M622.08 615.4H625.28" stroke="#fbca94" stroke-width="0.8" fill="none"/>
<rect x="621.68" y="610.71" width="4" height="4" fill="#fbca94"/>
<path d="M526.4 657.06L528.83 657.06L531.26 657.06L533.7 657.06L536.13 657.06L538.56 657.06L540.99 657.06L543.42 657.06L545.86 657.06L548.29 657.06L550.72 657.05L553.15 657.05L555.58 657.04L558.02 657.03L560.45 657L562.88 656.96L565.31 656.89L567.74 656.76L570.18 656.54L572.61 656.17L575.04 655.54L577.47 654.48L579.9 652.77L582.34 650.1L584.77 646.25L587.2 641.19L589.63 635.33L592.06 629.48L594.5 624.41L596.93 620.56L599.36 617.9L601.79 616.18L604.22 615.13L606.66 614.49L609.09 614.12L611.52 613.9L613.95 613.78L616.38 613.7L618.82 613.66L621.25 613.64L623.68 613.62" fill="none" stroke="#fab26c" stroke-width="1.5" stroke-linejoin="round" stroke-linecap="round"/>
<rect x="524.4" y="655.06" width="4" height="4" fill="#fab26c"/>
<path d="M562.88 658.4V655.72M561.28 655.72H564.48M561.28 658.4H564.48" stroke="#fab26c" stroke-width="0.8" fill="none"/>
<rect x="560.88" y="655.06" width="4" height="4" fill="#fab26c"/>
<path d="M575.04 656.16V652.58M573.44 652.58H576.64M573.44 656.16H576.64" stroke="#fab26c" stroke-width="0.8" fill="none"/>
<rect x="573.04" y="652.37" width="4" height="4" fill="#fab26c"/>
<path d="M587.2 645.86V638.69M585.6 638.69H588.8M585.6 645.86H588.8" stroke="#fab26c" stroke-width="0.8" fill="none"/>
<rect x="585.2" y="640.28" width="4" height="4" fill="#fab26c"/>
<path d="M599.36 618.98V613.6M597.76 613.6H600.96M597.76 618.98H600.96" stroke="#fab26c" stroke-width="0.8" fill="none"/>
<rect x="597.36" y="614.29" width="4" height="4" fill="#fab26c"/>
<path d="M611.52 618.08V609.12M609.92 609.12H613.12M609.92 618.08H613.12" stroke="#fab26c" stroke-width="0.8" fill="none"/>
<rect x="609.52" y="611.6" width="4" height="4" fill="#fab26c"/>
<path d="M623.68 616.29V610.92M622.08 610.92H625.28M622.08 616.29H625.28" stroke="#fab26c" stroke-width="0.8" fill="none"/>
<rect x="621.68" y="611.6" width="4" height="4" fill="#fab26c"/>
<path d="M526.4 657.06L528.83 657.06L531.26 657.06L533.7 657.06L536.13 657.06L538.56 657.06L540.99 657.06L543.42 657.06L545.86 657.06L548.29 657.05L550.72 657.05L553.15 657.04L555.58 657.03L558.02 657.01L560.45 656.98L562.88 656.91L565.31 656.81L567.74 656.62L570.18 656.3L572.61 655.76L575.04 654.84L577.47 653.35L579.9 651L582.34 647.53L584.77 642.85L587.2 637.25L589.63 631.43L592.06 626.22L594.5 622.14L596.93 619.26L599.36 617.37L601.79 616.2L604.22 615.5L606.66 615.08L609.09 614.84L611.52 614.69L613.95 614.61L616.38 614.56L618.82 614.54L621.25 614.52L623.68 614.51" fill="none" stroke="#f79622" stroke-width="1.5" stroke-linejoin="round" stroke-linecap="round"/>
<rect x="524.4" y="655.06" width="4" height="4" fill="#f79622"/>
<path d="M562.88 658.85V656.16M561.28 656.16H564.48M561.28 658.85H564.48" stroke="#f79622" stroke-width="0.8" fill="none"/>
<rect x="560.88" y="655.51" width="4" height="4" fill="#f79622"/>
<path d="M575.04 655.72V652.13M573.44 652.13H576.64M573.44 655.72H576.64" stroke="#f79622" stroke-width="0.8" fill="none"/>
<rect x="573.04" y="651.92" width="4" height="4" fill="#f79622"/>
<path d="M587.2 641.38V634.21M585.6 634.21H588.8M585.6 641.38H588.8" stroke="#f79622" stroke-width="0.8" fill="none"/>
<rect x="585.2" y="635.8" width="4" height="4" fill="#f79622"/>
<path d="M599.36 618.53V613.16M597.76 613.16H600.96M597.76 618.53H600.96" stroke="#f79622" stroke-width="0.8" fill="none"/>
<rect x="597.36" y="613.84" width="4" height="4" fill="#f79622"/>
<path d="M611.52 618.98V610.02M609.92 610.02H613.12M609.92 618.98H613.12" stroke="#f79622" stroke-width="0.8" fill="none"/>
<rect x="609.52" y="612.5" width="4" height="4" fill="#f79622"/>
<path d="M623.68 617.19V611.81M622.08 611.81H625.28M622.08 617.19H625.28" stroke="#f79622" stroke-width="0.8" fill="none"/>
<rect x="621.68" y="612.5" width="4" height="4" fill="#f79622"/>
<path d="M526.4 657.06L528.83 657.06L531.26 657.06L533.7 657.06L536.13 657.06L538.56 657.06L540.99 657.06L543.42 657.06L545.86 657.06L548.29 657.05L550.72 657.05L553.15 657.04L555.58 657.02L558.02 656.99L560.45 656.93L562.88 656.84L565.31 656.68L567.74 656.4L570.18 655.92L572.61 655.12L575.04 653.79L577.47 651.69L579.9 648.52L582.34 644.13L584.77 638.7L587.2 632.86L589.63 627.43L592.06 623.04L594.5 619.87L596.93 617.77L599.36 616.44L601.79 615.64L604.22 615.16L606.66 614.88L609.09 614.72L611.52 614.63L613.95 614.57L616.38 614.54L618.82 614.52L621.25 614.51L623.68 614.51" fill="none" stroke="#f28a18" stroke-width="1.5" stroke-linejoin="round" stroke-linecap="round"/>
<rect x="524.4" y="655.06" width="4" height="4" fill="#f28a18"/>
<path d="M562.88 658.4V655.72M561.28 655.72H564.48M561.28 658.4H564.48" stroke="#f28a18" stroke-width="0.8" fill="none"/>
<rect x="560.88" y="655.06" width="4" height="4" fill="#f28a18"/>
<path d="M575.04 654.82V651.24M573.44 651.24H576.64M573.44 654.82H576.64" stroke="#f28a18" stroke-width="0.8" fill="none"/>
<rect x="573.04" y="651.03" width="4" height="4" fill="#f28a18"/>
<path d="M587.2 636.9V629.73M585.6 629.73H588.8M585.6 636.9H588.8" stroke="#f28a18" stroke-width="0.8" fill="none"/>
<rect x="585.2" y="631.32" width="4" height="4" fill="#f28a18"/>
<path d="M599.36 618.08V612.71M597.76 612.71H600.96M597.76 618.08H600.96" stroke="#f28a18" stroke-width="0.8" fill="none"/>
<rect x="597.36" y="613.4" width="4" height="4" fill="#f28a18"/>
<path d="M611.52 619.43V610.47M609.92 610.47H613.12M609.92 619.43H613.12" stroke="#f28a18" stroke-width="0.8" fill="none"/>
<rect x="609.52" y="612.95" width="4" height="4" fill="#f28a18"/>
<path d="M623.68 617.64V612.26M622.08 612.26H625.28M622.08 617.64H625.28" stroke="#f28a18" stroke-width="0.8" fill="none"/>
<rect x="621.68" y="612.95" width="4" height="4" fill="#f28a18"/>
<path d="M526.4 657.06L528.83 657.06L531.26 657.06L533.7 657.06L536.13 657.06L538.56 657.06L540.99 657.06L543.42 657.06L545.86 657.05L548.29 657.05L550.72 657.04L553.15 657.02L555.58 657L558.02 656.95L560.45 656.87L562.88 656.72L565.31 656.48L567.74 656.06L570.18 655.36L572.61 654.19L575.04 652.3L577.47 649.42L579.9 645.34L582.34 640.13L584.77 634.31L587.2 628.71L589.63 624.03L592.06 620.56L594.5 618.21L596.93 616.72L599.36 615.8L601.79 615.26L604.22 614.94L606.66 614.75L609.09 614.65L611.52 614.58L613.95 614.55L616.38 614.53L618.82 614.52L621.25 614.51L623.68 614.51" fill="none" stroke="#d47e12" stroke-width="1.5" stroke-linejoin="round" stroke-linecap="round"/>
<rect x="524.4" y="655.06" width="4" height="4" fill="#d47e12"/>
<path d="M562.88 657.96V655.27M561.28 655.27H564.48M561.28 657.96H564.48" stroke="#d47e12" stroke-width="0.8" fill="none"/>
<rect x="560.88" y="654.61" width="4" height="4" fill="#d47e12"/>
<path d="M575.04 653.03V649.44M573.44 649.44H576.64M573.44 653.03H576.64" stroke="#d47e12" stroke-width="0.8" fill="none"/>
<rect x="573.04" y="649.24" width="4" height="4" fill="#d47e12"/>
<path d="M587.2 632.42V625.25M585.6 625.25H588.8M585.6 632.42H588.8" stroke="#d47e12" stroke-width="0.8" fill="none"/>
<rect x="585.2" y="626.84" width="4" height="4" fill="#d47e12"/>
<path d="M599.36 617.19V611.81M597.76 611.81H600.96M597.76 617.19H600.96" stroke="#d47e12" stroke-width="0.8" fill="none"/>
<rect x="597.36" y="612.5" width="4" height="4" fill="#d47e12"/>
<path d="M611.52 619.88V610.92M609.92 610.92H613.12M609.92 619.88H613.12" stroke="#d47e12" stroke-width="0.8" fill="none"/>
<rect x="609.52" y="613.4" width="4" height="4" fill="#d47e12"/>
<path d="M623.68 618.08V612.71M622.08 612.71H625.28M622.08 618.08H625.28" stroke="#d47e12" stroke-width="0.8" fill="none"/>
<rect x="621.68" y="613.4" width="4" height="4" fill="#d47e12"/>
<g stroke="#050505" stroke-width="1.25" fill="none"><path d="M505.2 591.47V671.12"/><path d="M502.8 592.1H505.2M502.8 603.3H505.2M502.8 614.5H505.2M502.8 625.7H505.2M502.8 636.9H505.2M502.8 648.1H505.2M502.8 659.3H505.2M502.8 670.5H505.2" stroke-width="1"/><path d="M513.62 680H636.47"/><path d="M514.24 680V682.7M538.56 680V682.7M562.88 680V682.7M587.2 680V682.7M611.52 680V682.7M635.84 680V682.7" stroke-width="1"/></g>
<g font-size="9.5" fill="#050505" stroke="#050505" stroke-width="0.2"><text x="501.6" y="595.23" text-anchor="end">150</text><text x="501.6" y="606.43" text-anchor="end">125</text><text x="501.6" y="617.63" text-anchor="end">100</text><text x="501.6" y="628.83" text-anchor="end">75</text><text x="501.6" y="640.03" text-anchor="end">50</text><text x="501.6" y="651.23" text-anchor="end">25</text><text x="501.6" y="662.43" text-anchor="end">0</text><text x="501.6" y="673.63" text-anchor="end">-25</text><text x="514.24" y="692" text-anchor="middle">-6</text><text x="538.56" y="692" text-anchor="middle">-4</text><text x="562.88" y="692" text-anchor="middle">-2</text><text x="587.2" y="692" text-anchor="middle">0</text><text x="611.52" y="692" text-anchor="middle">2</text><text x="635.84" y="692" text-anchor="middle">4</text><text x="575.5" y="707.5" text-anchor="middle">LPS <tspan font-style="italic">S. minnesota</tspan> [log (ng/ml)]</text></g><line x1="636.8" y1="593.7" x2="646.2" y2="593.7" stroke="#fde3c8" stroke-width="1.1"/><rect x="640" y="592.2" width="3" height="3" fill="#fde3c8"/><text x="651.7" y="596.9" font-size="9.5" fill="#0a0a0a" stroke="#0a0a0a" stroke-width="0.2">50 min</text><line x1="636.8" y1="604.45" x2="646.2" y2="604.45" stroke="#fbca94" stroke-width="1.1"/><rect x="640" y="602.95" width="3" height="3" fill="#fbca94"/><text x="651.7" y="607.65" font-size="9.5" fill="#0a0a0a" stroke="#0a0a0a" stroke-width="0.2">83 min</text><line x1="636.8" y1="615.2" x2="646.2" y2="615.2" stroke="#fab26c" stroke-width="1.1"/><rect x="640" y="613.7" width="3" height="3" fill="#fab26c"/><text x="651.7" y="618.4" font-size="9.5" fill="#0a0a0a" stroke="#0a0a0a" stroke-width="0.2">117 min</text><line x1="636.8" y1="625.95" x2="646.2" y2="625.95" stroke="#f79622" stroke-width="1.1"/><rect x="640" y="624.45" width="3" height="3" fill="#f79622"/><text x="651.7" y="629.15" font-size="9.5" fill="#0a0a0a" stroke="#0a0a0a" stroke-width="0.2">167 min</text><line x1="636.8" y1="636.7" x2="646.2" y2="636.7" stroke="#f28a18" stroke-width="1.1"/><rect x="640" y="635.2" width="3" height="3" fill="#f28a18"/><text x="651.7" y="639.9" font-size="9.5" fill="#0a0a0a" stroke="#0a0a0a" stroke-width="0.2">217 min</text><line x1="636.8" y1="647.45" x2="646.2" y2="647.45" stroke="#d47e12" stroke-width="1.1"/><rect x="640" y="645.95" width="3" height="3" fill="#d47e12"/><text x="651.7" y="650.65" font-size="9.5" fill="#0a0a0a" stroke="#0a0a0a" stroke-width="0.2">250 min</text>
<g font-size="16.5" font-weight="bold" fill="#000" stroke="#000" stroke-width="0.4" stroke-linejoin="round"><text x="-0.2" y="9.0">a</text><text x="-0.4" y="220.3">b</text><text x="231.7" y="220.0">c</text><text x="0" y="418.6">d</text><text x="231.8" y="418.7">e</text><text x="467" y="418.6">f</text><text x="0" y="572.9">g</text><text x="231.6" y="573.0">h</text></g>
</svg>
</body></html>
